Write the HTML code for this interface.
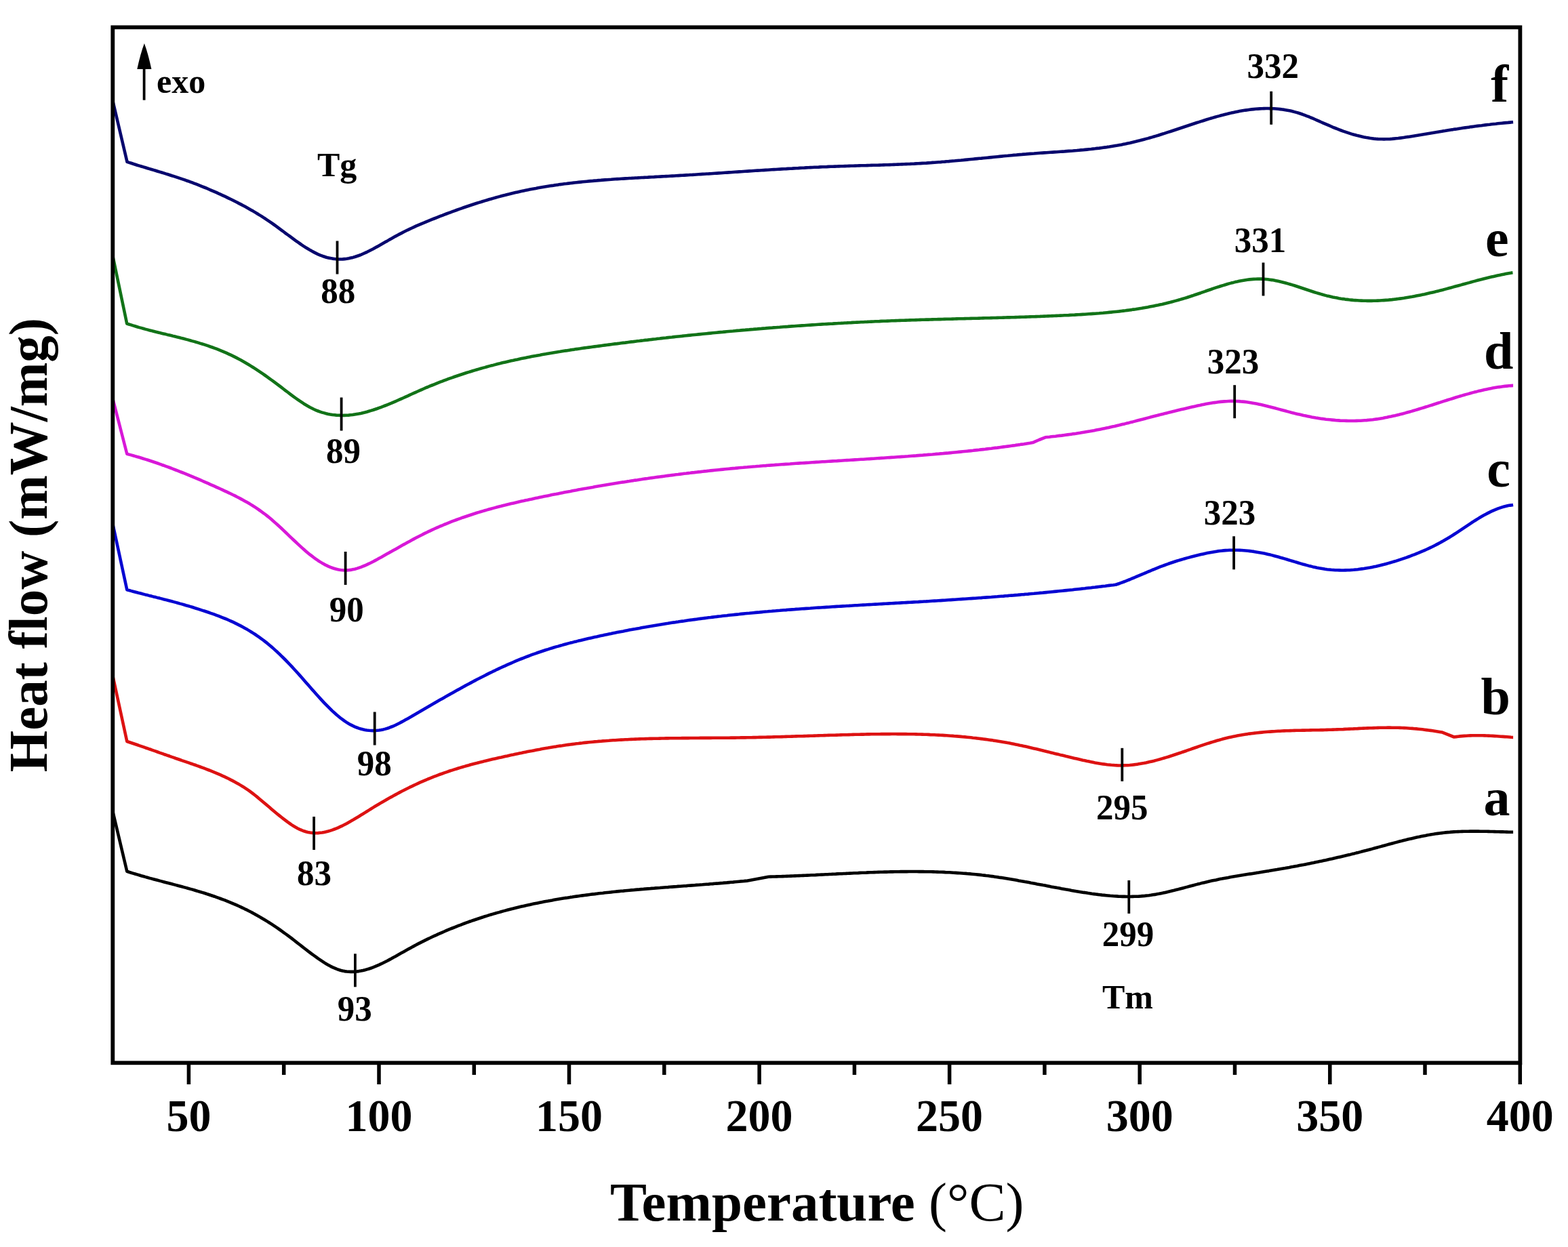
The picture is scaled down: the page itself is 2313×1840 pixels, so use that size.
<!DOCTYPE html>
<html><head><meta charset="utf-8"><title>DSC curves</title>
<style>html,body{margin:0;padding:0;background:#fff;}svg{display:block;}</style>
</head><body>
<svg width="2313" height="1840" viewBox="0 0 2313 1840">
<rect width="2313" height="1840" fill="#fff"/>
<path d="M166.5,149.5 L187.5,238.9 L190.5,239.9 L193.5,240.8 L196.5,241.8 L199.5,242.7 L202.5,243.7 L205.5,244.6 L208.5,245.5 L211.5,246.4 L214.5,247.3 L217.5,248.2 L220.5,249.1 L223.5,250.0 L226.5,250.9 L229.5,251.8 L232.5,252.7 L235.5,253.6 L238.5,254.5 L241.5,255.4 L244.5,256.4 L247.5,257.3 L250.5,258.2 L253.5,259.2 L256.5,260.1 L259.5,261.1 L262.5,262.1 L265.5,263.1 L268.5,264.1 L271.5,265.1 L274.5,266.2 L277.5,267.2 L280.5,268.3 L283.5,269.4 L286.5,270.6 L289.5,271.7 L292.5,272.9 L295.5,274.1 L298.5,275.3 L301.5,276.5 L304.5,277.7 L307.5,279.0 L310.5,280.3 L313.5,281.6 L316.5,282.9 L319.5,284.2 L322.5,285.6 L325.5,286.9 L328.5,288.3 L331.5,289.7 L334.5,291.1 L337.5,292.6 L340.5,294.0 L343.5,295.5 L346.5,297.0 L349.5,298.5 L352.5,300.1 L355.5,301.6 L358.5,303.2 L361.5,304.8 L364.5,306.5 L367.5,308.2 L370.5,309.9 L373.5,311.6 L376.5,313.4 L379.5,315.2 L382.5,317.1 L385.5,318.9 L388.5,320.9 L391.5,322.8 L394.5,324.8 L397.5,326.8 L400.5,328.9 L403.5,331.0 L406.5,333.2 L409.5,335.4 L412.5,337.6 L415.5,339.8 L418.5,342.0 L421.5,344.3 L424.5,346.5 L427.5,348.7 L430.5,350.9 L433.5,353.1 L436.5,355.3 L439.5,357.4 L442.5,359.5 L445.5,361.6 L448.5,363.6 L451.5,365.5 L454.5,367.3 L457.5,369.1 L460.5,370.8 L463.5,372.4 L466.5,373.9 L469.5,375.3 L472.5,376.6 L475.5,377.7 L478.5,378.7 L481.5,379.7 L484.5,380.4 L487.5,381.1 L490.5,381.6 L493.5,382.0 L496.5,382.3 L499.5,382.5 L502.5,382.5 L505.5,382.4 L508.5,382.1 L511.5,381.8 L514.5,381.3 L517.5,380.6 L520.5,379.9 L523.5,379.0 L526.5,378.0 L529.5,377.0 L532.5,375.8 L535.5,374.5 L538.5,373.2 L541.5,371.8 L544.5,370.3 L547.5,368.7 L550.5,367.2 L553.5,365.5 L556.5,363.9 L559.5,362.2 L562.5,360.5 L565.5,358.8 L568.5,357.1 L571.5,355.4 L574.5,353.6 L577.5,352.0 L580.5,350.3 L583.5,348.6 L586.5,347.0 L589.5,345.4 L592.5,343.9 L595.5,342.3 L598.5,340.8 L601.5,339.3 L604.5,337.9 L607.5,336.5 L610.5,335.1 L613.5,333.7 L616.5,332.4 L619.5,331.1 L622.5,329.8 L625.5,328.6 L628.5,327.3 L631.5,326.1 L634.5,324.9 L637.5,323.7 L640.5,322.5 L643.5,321.3 L646.5,320.1 L649.5,318.9 L652.5,317.8 L655.5,316.6 L658.5,315.5 L661.5,314.4 L664.5,313.3 L667.5,312.2 L670.5,311.1 L673.5,310.0 L676.5,308.9 L679.5,307.9 L682.5,306.8 L685.5,305.8 L688.5,304.8 L691.5,303.8 L694.5,302.8 L697.5,301.8 L700.5,300.8 L703.5,299.8 L706.5,298.9 L709.5,298.0 L712.5,297.0 L715.5,296.1 L718.5,295.2 L721.5,294.3 L724.5,293.5 L727.5,292.6 L730.5,291.8 L733.5,290.9 L736.5,290.1 L739.5,289.3 L742.5,288.5 L745.5,287.8 L748.5,287.0 L751.5,286.3 L754.5,285.5 L757.5,284.8 L760.5,284.1 L763.5,283.4 L766.5,282.7 L769.5,282.1 L772.5,281.4 L775.5,280.8 L778.5,280.2 L781.5,279.6 L784.5,279.0 L787.5,278.4 L790.5,277.9 L793.5,277.3 L796.5,276.8 L799.5,276.3 L802.5,275.8 L805.5,275.3 L808.5,274.8 L811.5,274.3 L814.5,273.9 L817.5,273.4 L820.5,273.0 L823.5,272.6 L826.5,272.1 L829.5,271.7 L832.5,271.3 L835.5,271.0 L838.5,270.6 L841.5,270.2 L844.5,269.9 L847.5,269.5 L850.5,269.2 L853.5,268.9 L856.5,268.6 L859.5,268.3 L862.5,268.0 L865.5,267.7 L868.5,267.4 L871.5,267.1 L874.5,266.9 L877.5,266.6 L880.5,266.4 L883.5,266.1 L886.5,265.9 L889.5,265.6 L892.5,265.4 L895.5,265.2 L898.5,265.0 L901.5,264.8 L904.5,264.5 L907.5,264.3 L910.5,264.1 L913.5,264.0 L916.5,263.8 L919.5,263.6 L922.5,263.4 L925.5,263.2 L928.5,263.0 L931.5,262.9 L934.5,262.7 L937.5,262.5 L940.5,262.4 L943.5,262.2 L946.5,262.0 L949.5,261.9 L952.5,261.7 L955.5,261.6 L958.5,261.4 L961.5,261.2 L964.5,261.1 L967.5,260.9 L970.5,260.8 L973.5,260.6 L976.5,260.4 L979.5,260.3 L982.5,260.1 L985.5,260.0 L988.5,259.8 L991.5,259.6 L994.5,259.5 L997.5,259.3 L1000.5,259.1 L1003.5,258.9 L1006.5,258.8 L1009.5,258.6 L1012.5,258.4 L1015.5,258.2 L1018.5,258.0 L1021.5,257.9 L1024.5,257.7 L1027.5,257.5 L1030.5,257.3 L1033.5,257.1 L1036.5,256.9 L1039.5,256.7 L1042.5,256.5 L1045.5,256.4 L1048.5,256.2 L1051.5,256.0 L1054.5,255.8 L1057.5,255.6 L1060.5,255.4 L1063.5,255.2 L1066.5,255.0 L1069.5,254.8 L1072.5,254.6 L1075.5,254.4 L1078.5,254.2 L1081.5,254.0 L1084.5,253.8 L1087.5,253.6 L1090.5,253.4 L1093.5,253.2 L1096.5,253.0 L1099.5,252.8 L1102.5,252.6 L1105.5,252.4 L1108.5,252.2 L1111.5,252.0 L1114.5,251.8 L1117.5,251.6 L1120.5,251.5 L1123.5,251.3 L1126.5,251.1 L1129.5,250.9 L1132.5,250.7 L1135.5,250.5 L1138.5,250.3 L1141.5,250.1 L1144.5,250.0 L1147.5,249.8 L1150.5,249.6 L1153.5,249.4 L1156.5,249.2 L1159.5,249.1 L1162.5,248.9 L1165.5,248.7 L1168.5,248.6 L1171.5,248.4 L1174.5,248.2 L1177.5,248.1 L1180.5,247.9 L1183.5,247.7 L1186.5,247.6 L1189.5,247.4 L1192.5,247.3 L1195.5,247.1 L1198.5,247.0 L1201.5,246.8 L1204.5,246.7 L1207.5,246.6 L1210.5,246.4 L1213.5,246.3 L1216.5,246.2 L1219.5,246.1 L1222.5,245.9 L1225.5,245.8 L1228.5,245.7 L1231.5,245.6 L1234.5,245.5 L1237.5,245.4 L1240.5,245.3 L1243.5,245.2 L1246.5,245.1 L1249.5,245.0 L1252.5,244.9 L1255.5,244.8 L1258.5,244.7 L1261.5,244.6 L1264.5,244.5 L1267.5,244.4 L1270.5,244.3 L1273.5,244.3 L1276.5,244.2 L1279.5,244.1 L1282.5,244.0 L1285.5,243.9 L1288.5,243.8 L1291.5,243.7 L1294.5,243.7 L1297.5,243.6 L1300.5,243.5 L1303.5,243.4 L1306.5,243.3 L1309.5,243.2 L1312.5,243.1 L1315.5,243.0 L1318.5,242.9 L1321.5,242.8 L1324.5,242.6 L1327.5,242.5 L1330.5,242.4 L1333.5,242.3 L1336.5,242.1 L1339.5,242.0 L1342.5,241.9 L1345.5,241.7 L1348.5,241.6 L1351.5,241.4 L1354.5,241.3 L1357.5,241.1 L1360.5,240.9 L1363.5,240.7 L1366.5,240.6 L1369.5,240.4 L1372.5,240.2 L1375.5,239.9 L1378.5,239.7 L1381.5,239.5 L1384.5,239.3 L1387.5,239.1 L1390.5,238.8 L1393.5,238.6 L1396.5,238.3 L1399.5,238.1 L1402.5,237.8 L1405.5,237.5 L1408.5,237.3 L1411.5,237.0 L1414.5,236.7 L1417.5,236.5 L1420.5,236.2 L1423.5,235.9 L1426.5,235.6 L1429.5,235.3 L1432.5,235.0 L1435.5,234.7 L1438.5,234.4 L1441.5,234.1 L1444.5,233.8 L1447.5,233.6 L1450.5,233.3 L1453.5,233.0 L1456.5,232.7 L1459.5,232.4 L1462.5,232.1 L1465.5,231.8 L1468.5,231.5 L1471.5,231.2 L1474.5,230.9 L1477.5,230.6 L1480.5,230.3 L1483.5,230.0 L1486.5,229.8 L1489.5,229.5 L1492.5,229.2 L1495.5,228.9 L1498.5,228.7 L1501.5,228.4 L1504.5,228.1 L1507.5,227.9 L1510.5,227.6 L1513.5,227.4 L1516.5,227.1 L1519.5,226.9 L1522.5,226.7 L1525.5,226.5 L1528.5,226.2 L1531.5,226.0 L1534.5,225.8 L1537.5,225.6 L1540.5,225.4 L1543.5,225.2 L1546.5,225.0 L1549.5,224.8 L1552.5,224.6 L1555.5,224.4 L1558.5,224.2 L1561.5,224.0 L1564.5,223.8 L1567.5,223.6 L1570.5,223.4 L1573.5,223.1 L1576.5,222.9 L1579.5,222.7 L1582.5,222.5 L1585.5,222.2 L1588.5,222.0 L1591.5,221.7 L1594.5,221.4 L1597.5,221.2 L1600.5,220.9 L1603.5,220.6 L1606.5,220.3 L1609.5,220.0 L1612.5,219.6 L1615.5,219.3 L1618.5,218.9 L1621.5,218.6 L1624.5,218.2 L1627.5,217.8 L1630.5,217.4 L1633.5,216.9 L1636.5,216.5 L1639.5,216.0 L1642.5,215.5 L1645.5,215.0 L1648.5,214.5 L1651.5,213.9 L1654.5,213.4 L1657.5,212.8 L1660.5,212.2 L1663.5,211.5 L1666.5,210.9 L1669.5,210.2 L1672.5,209.5 L1675.5,208.8 L1678.5,208.0 L1681.5,207.3 L1684.5,206.5 L1687.5,205.7 L1690.5,204.9 L1693.5,204.1 L1696.5,203.2 L1699.5,202.4 L1702.5,201.5 L1705.5,200.6 L1708.5,199.7 L1711.5,198.7 L1714.5,197.8 L1717.5,196.9 L1720.5,195.9 L1723.5,194.9 L1726.5,194.0 L1729.5,193.0 L1732.5,192.0 L1735.5,191.0 L1738.5,190.0 L1741.5,189.0 L1744.5,188.0 L1747.5,187.0 L1750.5,186.0 L1753.5,185.0 L1756.5,184.0 L1759.5,183.0 L1762.5,182.0 L1765.5,181.0 L1768.5,180.1 L1771.5,179.1 L1774.5,178.2 L1777.5,177.2 L1780.5,176.3 L1783.5,175.4 L1786.5,174.5 L1789.5,173.6 L1792.5,172.7 L1795.5,171.9 L1798.5,171.1 L1801.5,170.2 L1804.5,169.5 L1807.5,168.7 L1810.5,168.0 L1813.5,167.2 L1816.5,166.6 L1819.5,165.9 L1822.5,165.3 L1825.5,164.7 L1828.5,164.1 L1831.5,163.6 L1834.5,163.1 L1837.5,162.6 L1840.5,162.2 L1843.5,161.8 L1846.5,161.4 L1849.5,161.1 L1852.5,160.8 L1855.5,160.6 L1858.5,160.4 L1861.5,160.2 L1864.5,160.1 L1867.5,160.0 L1870.5,160.0 L1873.5,160.1 L1876.5,160.2 L1879.5,160.3 L1882.5,160.5 L1885.5,160.8 L1888.5,161.1 L1891.5,161.5 L1894.5,161.9 L1897.5,162.4 L1900.5,163.0 L1903.5,163.6 L1906.5,164.3 L1909.5,165.1 L1912.5,165.9 L1915.5,166.8 L1918.5,167.8 L1921.5,168.8 L1924.5,169.9 L1927.5,171.1 L1930.5,172.2 L1933.5,173.5 L1936.5,174.7 L1939.5,176.0 L1942.5,177.3 L1945.5,178.6 L1948.5,180.0 L1951.5,181.3 L1954.5,182.6 L1957.5,183.9 L1960.5,185.2 L1963.5,186.5 L1966.5,187.8 L1969.5,189.0 L1972.5,190.2 L1975.5,191.3 L1978.5,192.5 L1981.5,193.6 L1984.5,194.6 L1987.5,195.6 L1990.5,196.6 L1993.5,197.6 L1996.5,198.5 L1999.5,199.3 L2002.5,200.1 L2005.5,200.8 L2008.5,201.5 L2011.5,202.2 L2014.5,202.8 L2017.5,203.3 L2020.5,203.8 L2023.5,204.2 L2026.5,204.6 L2029.5,204.9 L2032.5,205.1 L2035.5,205.2 L2038.5,205.3 L2041.5,205.4 L2044.5,205.3 L2047.5,205.2 L2050.5,205.1 L2053.5,204.9 L2056.5,204.6 L2059.5,204.3 L2062.5,204.0 L2065.5,203.6 L2068.5,203.2 L2071.5,202.8 L2074.5,202.3 L2077.5,201.9 L2080.5,201.4 L2083.5,200.9 L2086.5,200.4 L2089.5,199.9 L2092.5,199.4 L2095.5,198.9 L2098.5,198.4 L2101.5,197.9 L2104.5,197.4 L2107.5,196.9 L2110.5,196.4 L2113.5,195.9 L2116.5,195.4 L2119.5,194.9 L2122.5,194.4 L2125.5,193.9 L2128.5,193.4 L2131.5,193.0 L2134.5,192.5 L2137.5,192.0 L2140.5,191.5 L2143.5,191.1 L2146.5,190.6 L2149.5,190.2 L2152.5,189.7 L2155.5,189.3 L2158.5,188.8 L2161.5,188.4 L2164.5,188.0 L2167.5,187.6 L2170.5,187.1 L2173.5,186.7 L2176.5,186.3 L2179.5,185.9 L2182.5,185.5 L2185.5,185.2 L2188.5,184.8 L2191.5,184.4 L2194.5,184.0 L2197.5,183.7 L2200.5,183.3 L2203.5,183.0 L2206.5,182.7 L2209.5,182.3 L2212.5,182.0 L2215.5,181.7 L2218.5,181.4 L2221.5,181.1 L2224.5,180.9 L2227.5,180.6 L2230.5,180.3 L2232.1,180.2" fill="none" stroke="#08086E" stroke-width="4.6" stroke-linejoin="round" stroke-linecap="butt"/>
<path d="M166.5,378.5 L187.2,477.5 L190.2,478.5 L193.2,479.4 L196.2,480.4 L199.2,481.3 L202.2,482.2 L205.2,483.1 L208.2,483.9 L211.2,484.7 L214.2,485.6 L217.2,486.4 L220.2,487.2 L223.2,487.9 L226.2,488.7 L229.2,489.5 L232.2,490.2 L235.2,490.9 L238.2,491.7 L241.2,492.4 L244.2,493.1 L247.2,493.9 L250.2,494.6 L253.2,495.3 L256.2,496.1 L259.2,496.8 L262.2,497.6 L265.2,498.3 L268.2,499.1 L271.2,499.8 L274.2,500.6 L277.2,501.4 L280.2,502.2 L283.2,503.1 L286.2,503.9 L289.2,504.8 L292.2,505.6 L295.2,506.6 L298.2,507.5 L301.2,508.4 L304.2,509.4 L307.2,510.4 L310.2,511.5 L313.2,512.5 L316.2,513.6 L319.2,514.7 L322.2,515.9 L325.2,517.1 L328.2,518.3 L331.2,519.6 L334.2,520.9 L337.2,522.3 L340.2,523.7 L343.2,525.1 L346.2,526.6 L349.2,528.1 L352.2,529.7 L355.2,531.3 L358.2,533.0 L361.2,534.7 L364.2,536.5 L367.2,538.3 L370.2,540.1 L373.2,542.0 L376.2,543.9 L379.2,545.9 L382.2,547.9 L385.2,549.9 L388.2,551.9 L391.2,554.0 L394.2,556.1 L397.2,558.3 L400.2,560.5 L403.2,562.7 L406.2,564.9 L409.2,567.1 L412.2,569.4 L415.2,571.7 L418.2,574.0 L421.2,576.3 L424.2,578.5 L427.2,580.8 L430.2,583.1 L433.2,585.3 L436.2,587.5 L439.2,589.6 L442.2,591.7 L445.2,593.7 L448.2,595.7 L451.2,597.5 L454.2,599.3 L457.2,601.0 L460.2,602.5 L463.2,604.0 L466.2,605.3 L469.2,606.5 L472.2,607.6 L475.2,608.6 L478.2,609.4 L481.2,610.2 L484.2,610.9 L487.2,611.5 L490.2,612.0 L493.2,612.3 L496.2,612.6 L499.2,612.8 L502.2,612.9 L505.2,613.0 L508.2,612.9 L511.2,612.8 L514.2,612.6 L517.2,612.3 L520.2,612.0 L523.2,611.5 L526.2,611.0 L529.2,610.5 L532.2,609.9 L535.2,609.2 L538.2,608.5 L541.2,607.7 L544.2,606.8 L547.2,605.9 L550.2,605.0 L553.2,604.0 L556.2,603.0 L559.2,601.9 L562.2,600.8 L565.2,599.7 L568.2,598.5 L571.2,597.3 L574.2,596.1 L577.2,594.9 L580.2,593.6 L583.2,592.3 L586.2,591.0 L589.2,589.7 L592.2,588.3 L595.2,587.0 L598.2,585.6 L601.2,584.3 L604.2,582.9 L607.2,581.5 L610.2,580.2 L613.2,578.8 L616.2,577.5 L619.2,576.2 L622.2,574.8 L625.2,573.5 L628.2,572.2 L631.2,571.0 L634.2,569.7 L637.2,568.5 L640.2,567.3 L643.2,566.1 L646.2,564.9 L649.2,563.7 L652.2,562.6 L655.2,561.4 L658.2,560.3 L661.2,559.2 L664.2,558.1 L667.2,557.1 L670.2,556.0 L673.2,555.0 L676.2,554.0 L679.2,553.0 L682.2,552.0 L685.2,551.0 L688.2,550.0 L691.2,549.1 L694.2,548.2 L697.2,547.3 L700.2,546.4 L703.2,545.5 L706.2,544.6 L709.2,543.7 L712.2,542.9 L715.2,542.1 L718.2,541.2 L721.2,540.4 L724.2,539.6 L727.2,538.9 L730.2,538.1 L733.2,537.3 L736.2,536.6 L739.2,535.8 L742.2,535.1 L745.2,534.4 L748.2,533.7 L751.2,533.0 L754.2,532.3 L757.2,531.7 L760.2,531.0 L763.2,530.4 L766.2,529.7 L769.2,529.1 L772.2,528.5 L775.2,527.9 L778.2,527.3 L781.2,526.7 L784.2,526.1 L787.2,525.5 L790.2,525.0 L793.2,524.4 L796.2,523.9 L799.2,523.3 L802.2,522.8 L805.2,522.3 L808.2,521.7 L811.2,521.2 L814.2,520.7 L817.2,520.2 L820.2,519.7 L823.2,519.2 L826.2,518.8 L829.2,518.3 L832.2,517.8 L835.2,517.4 L838.2,516.9 L841.2,516.4 L844.2,516.0 L847.2,515.6 L850.2,515.1 L853.2,514.7 L856.2,514.3 L859.2,513.8 L862.2,513.4 L865.2,513.0 L868.2,512.6 L871.2,512.2 L874.2,511.8 L877.2,511.4 L880.2,511.0 L883.2,510.6 L886.2,510.2 L889.2,509.8 L892.2,509.4 L895.2,509.0 L898.2,508.6 L901.2,508.2 L904.2,507.8 L907.2,507.4 L910.2,507.1 L913.2,506.7 L916.2,506.3 L919.2,505.9 L922.2,505.6 L925.2,505.2 L928.2,504.8 L931.2,504.4 L934.2,504.1 L937.2,503.7 L940.2,503.3 L943.2,503.0 L946.2,502.6 L949.2,502.3 L952.2,501.9 L955.2,501.6 L958.2,501.2 L961.2,500.9 L964.2,500.5 L967.2,500.2 L970.2,499.8 L973.2,499.5 L976.2,499.1 L979.2,498.8 L982.2,498.5 L985.2,498.1 L988.2,497.8 L991.2,497.5 L994.2,497.1 L997.2,496.8 L1000.2,496.5 L1003.2,496.2 L1006.2,495.9 L1009.2,495.5 L1012.2,495.2 L1015.2,494.9 L1018.2,494.6 L1021.2,494.3 L1024.2,494.0 L1027.2,493.7 L1030.2,493.4 L1033.2,493.1 L1036.2,492.8 L1039.2,492.5 L1042.2,492.2 L1045.2,491.9 L1048.2,491.6 L1051.2,491.3 L1054.2,491.0 L1057.2,490.7 L1060.2,490.4 L1063.2,490.1 L1066.2,489.9 L1069.2,489.6 L1072.2,489.3 L1075.2,489.0 L1078.2,488.7 L1081.2,488.5 L1084.2,488.2 L1087.2,487.9 L1090.2,487.7 L1093.2,487.4 L1096.2,487.1 L1099.2,486.9 L1102.2,486.6 L1105.2,486.4 L1108.2,486.1 L1111.2,485.9 L1114.2,485.6 L1117.2,485.4 L1120.2,485.1 L1123.2,484.9 L1126.2,484.6 L1129.2,484.4 L1132.2,484.1 L1135.2,483.9 L1138.2,483.7 L1141.2,483.4 L1144.2,483.2 L1147.2,483.0 L1150.2,482.8 L1153.2,482.5 L1156.2,482.3 L1159.2,482.1 L1162.2,481.9 L1165.2,481.6 L1168.2,481.4 L1171.2,481.2 L1174.2,481.0 L1177.2,480.8 L1180.2,480.6 L1183.2,480.4 L1186.2,480.2 L1189.2,480.0 L1192.2,479.8 L1195.2,479.6 L1198.2,479.4 L1201.2,479.2 L1204.2,479.0 L1207.2,478.8 L1210.2,478.6 L1213.2,478.4 L1216.2,478.3 L1219.2,478.1 L1222.2,477.9 L1225.2,477.7 L1228.2,477.6 L1231.2,477.4 L1234.2,477.2 L1237.2,477.0 L1240.2,476.9 L1243.2,476.7 L1246.2,476.5 L1249.2,476.4 L1252.2,476.2 L1255.2,476.1 L1258.2,475.9 L1261.2,475.8 L1264.2,475.6 L1267.2,475.5 L1270.2,475.3 L1273.2,475.2 L1276.2,475.0 L1279.2,474.9 L1282.2,474.7 L1285.2,474.6 L1288.2,474.5 L1291.2,474.3 L1294.2,474.2 L1297.2,474.1 L1300.2,473.9 L1303.2,473.8 L1306.2,473.7 L1309.2,473.6 L1312.2,473.5 L1315.2,473.3 L1318.2,473.2 L1321.2,473.1 L1324.2,473.0 L1327.2,472.9 L1330.2,472.8 L1333.2,472.7 L1336.2,472.6 L1339.2,472.5 L1342.2,472.4 L1345.2,472.3 L1348.2,472.2 L1351.2,472.1 L1354.2,472.0 L1357.2,471.9 L1360.2,471.8 L1363.2,471.7 L1366.2,471.6 L1369.2,471.6 L1372.2,471.5 L1375.2,471.4 L1378.2,471.3 L1381.2,471.2 L1384.2,471.1 L1387.2,471.1 L1390.2,471.0 L1393.2,470.9 L1396.2,470.8 L1399.2,470.7 L1402.2,470.7 L1405.2,470.6 L1408.2,470.5 L1411.2,470.4 L1414.2,470.3 L1417.2,470.3 L1420.2,470.2 L1423.2,470.1 L1426.2,470.0 L1429.2,470.0 L1432.2,469.9 L1435.2,469.8 L1438.2,469.7 L1441.2,469.7 L1444.2,469.6 L1447.2,469.5 L1450.2,469.4 L1453.2,469.3 L1456.2,469.3 L1459.2,469.2 L1462.2,469.1 L1465.2,469.0 L1468.2,469.0 L1471.2,468.9 L1474.2,468.8 L1477.2,468.7 L1480.2,468.6 L1483.2,468.5 L1486.2,468.4 L1489.2,468.4 L1492.2,468.3 L1495.2,468.2 L1498.2,468.1 L1501.2,468.0 L1504.2,467.9 L1507.2,467.8 L1510.2,467.7 L1513.2,467.6 L1516.2,467.5 L1519.2,467.4 L1522.2,467.3 L1525.2,467.2 L1528.2,467.1 L1531.2,467.0 L1534.2,466.9 L1537.2,466.7 L1540.2,466.6 L1543.2,466.5 L1546.2,466.4 L1549.2,466.3 L1552.2,466.1 L1555.2,466.0 L1558.2,465.9 L1561.2,465.8 L1564.2,465.6 L1567.2,465.5 L1570.2,465.3 L1573.2,465.2 L1576.2,465.1 L1579.2,464.9 L1582.2,464.7 L1585.2,464.6 L1588.2,464.4 L1591.2,464.3 L1594.2,464.1 L1597.2,463.9 L1600.2,463.7 L1603.2,463.5 L1606.2,463.3 L1609.2,463.1 L1612.2,462.9 L1615.2,462.7 L1618.2,462.5 L1621.2,462.3 L1624.2,462.0 L1627.2,461.8 L1630.2,461.5 L1633.2,461.2 L1636.2,460.9 L1639.2,460.6 L1642.2,460.3 L1645.2,460.0 L1648.2,459.7 L1651.2,459.4 L1654.2,459.0 L1657.2,458.6 L1660.2,458.3 L1663.2,457.9 L1666.2,457.5 L1669.2,457.1 L1672.2,456.6 L1675.2,456.2 L1678.2,455.7 L1681.2,455.2 L1684.2,454.8 L1687.2,454.2 L1690.2,453.7 L1693.2,453.2 L1696.2,452.6 L1699.2,452.0 L1702.2,451.4 L1705.2,450.8 L1708.2,450.2 L1711.2,449.5 L1714.2,448.9 L1717.2,448.2 L1720.2,447.5 L1723.2,446.7 L1726.2,446.0 L1729.2,445.2 L1732.2,444.4 L1735.2,443.6 L1738.2,442.8 L1741.2,441.9 L1744.2,441.0 L1747.2,440.1 L1750.2,439.2 L1753.2,438.2 L1756.2,437.3 L1759.2,436.3 L1762.2,435.2 L1765.2,434.2 L1768.2,433.2 L1771.2,432.2 L1774.2,431.1 L1777.2,430.1 L1780.2,429.0 L1783.2,428.0 L1786.2,427.0 L1789.2,425.9 L1792.2,424.9 L1795.2,423.9 L1798.2,423.0 L1801.2,422.0 L1804.2,421.1 L1807.2,420.2 L1810.2,419.3 L1813.2,418.4 L1816.2,417.6 L1819.2,416.9 L1822.2,416.1 L1825.2,415.5 L1828.2,414.8 L1831.2,414.2 L1834.2,413.7 L1837.2,413.2 L1840.2,412.8 L1843.2,412.4 L1846.2,412.1 L1849.2,411.9 L1852.2,411.7 L1855.2,411.6 L1858.2,411.6 L1861.2,411.6 L1864.2,411.8 L1867.2,412.0 L1870.2,412.3 L1873.2,412.7 L1876.2,413.1 L1879.2,413.6 L1882.2,414.2 L1885.2,414.8 L1888.2,415.5 L1891.2,416.2 L1894.2,417.0 L1897.2,417.8 L1900.2,418.6 L1903.2,419.5 L1906.2,420.4 L1909.2,421.3 L1912.2,422.3 L1915.2,423.3 L1918.2,424.3 L1921.2,425.3 L1924.2,426.3 L1927.2,427.3 L1930.2,428.3 L1933.2,429.2 L1936.2,430.2 L1939.2,431.2 L1942.2,432.1 L1945.2,433.0 L1948.2,433.9 L1951.2,434.8 L1954.2,435.6 L1957.2,436.4 L1960.2,437.1 L1963.2,437.8 L1966.2,438.5 L1969.2,439.1 L1972.2,439.6 L1975.2,440.2 L1978.2,440.7 L1981.2,441.1 L1984.2,441.6 L1987.2,441.9 L1990.2,442.3 L1993.2,442.6 L1996.2,442.9 L1999.2,443.1 L2002.2,443.3 L2005.2,443.5 L2008.2,443.6 L2011.2,443.7 L2014.2,443.8 L2017.2,443.9 L2020.2,443.9 L2023.2,443.9 L2026.2,443.8 L2029.2,443.7 L2032.2,443.6 L2035.2,443.5 L2038.2,443.3 L2041.2,443.1 L2044.2,442.9 L2047.2,442.7 L2050.2,442.4 L2053.2,442.1 L2056.2,441.7 L2059.2,441.4 L2062.2,441.0 L2065.2,440.6 L2068.2,440.2 L2071.2,439.8 L2074.2,439.3 L2077.2,438.8 L2080.2,438.3 L2083.2,437.8 L2086.2,437.2 L2089.2,436.6 L2092.2,436.0 L2095.2,435.4 L2098.2,434.8 L2101.2,434.2 L2104.2,433.5 L2107.2,432.8 L2110.2,432.1 L2113.2,431.4 L2116.2,430.7 L2119.2,429.9 L2122.2,429.2 L2125.2,428.4 L2128.2,427.7 L2131.2,426.9 L2134.2,426.1 L2137.2,425.3 L2140.2,424.5 L2143.2,423.6 L2146.2,422.8 L2149.2,422.0 L2152.2,421.2 L2155.2,420.4 L2158.2,419.5 L2161.2,418.7 L2164.2,417.9 L2167.2,417.1 L2170.2,416.2 L2173.2,415.4 L2176.2,414.6 L2179.2,413.8 L2182.2,413.0 L2185.2,412.3 L2188.2,411.5 L2191.2,410.7 L2194.2,410.0 L2197.2,409.3 L2200.2,408.6 L2203.2,407.9 L2206.2,407.2 L2209.2,406.5 L2212.2,405.9 L2215.2,405.3 L2218.2,404.7 L2221.2,404.1 L2224.2,403.5 L2227.2,403.0 L2230.2,402.5 L2231.5,402.3" fill="none" stroke="#127318" stroke-width="4.6" stroke-linejoin="round" stroke-linecap="butt"/>
<path d="M166.5,589.0 L187.3,669.8 L190.3,670.6 L193.3,671.4 L196.3,672.2 L199.3,673.1 L202.3,674.0 L205.3,674.8 L208.3,675.7 L211.3,676.7 L214.3,677.6 L217.3,678.5 L220.3,679.5 L223.3,680.5 L226.3,681.5 L229.3,682.5 L232.3,683.5 L235.3,684.6 L238.3,685.7 L241.3,686.7 L244.3,687.8 L247.3,688.9 L250.3,690.0 L253.3,691.2 L256.3,692.3 L259.3,693.5 L262.3,694.6 L265.3,695.8 L268.3,697.0 L271.3,698.2 L274.3,699.4 L277.3,700.6 L280.3,701.9 L283.3,703.1 L286.3,704.4 L289.3,705.6 L292.3,706.9 L295.3,708.2 L298.3,709.5 L301.3,710.8 L304.3,712.1 L307.3,713.4 L310.3,714.8 L313.3,716.1 L316.3,717.4 L319.3,718.8 L322.3,720.2 L325.3,721.5 L328.3,722.9 L331.3,724.3 L334.3,725.7 L337.3,727.1 L340.3,728.5 L343.3,730.0 L346.3,731.4 L349.3,733.0 L352.3,734.5 L355.3,736.1 L358.3,737.7 L361.3,739.4 L364.3,741.1 L367.3,742.8 L370.3,744.6 L373.3,746.5 L376.3,748.4 L379.3,750.4 L382.3,752.5 L385.3,754.6 L388.3,756.8 L391.3,759.0 L394.3,761.4 L397.3,763.8 L400.3,766.3 L403.3,768.9 L406.3,771.6 L409.3,774.3 L412.3,777.0 L415.3,779.8 L418.3,782.7 L421.3,785.5 L424.3,788.4 L427.3,791.3 L430.3,794.1 L433.3,797.0 L436.3,799.8 L439.3,802.6 L442.3,805.4 L445.3,808.1 L448.3,810.8 L451.3,813.4 L454.3,815.9 L457.3,818.4 L460.3,820.7 L463.3,823.0 L466.3,825.2 L469.3,827.2 L472.3,829.1 L475.3,830.9 L478.3,832.6 L481.3,834.2 L484.3,835.6 L487.3,836.9 L490.3,838.0 L493.3,839.0 L496.3,839.8 L499.3,840.5 L502.3,841.0 L505.3,841.3 L508.3,841.5 L511.3,841.4 L514.3,841.2 L517.3,840.9 L520.3,840.3 L523.3,839.7 L526.3,838.9 L529.3,837.9 L532.3,836.9 L535.3,835.7 L538.3,834.5 L541.3,833.1 L544.3,831.7 L547.3,830.2 L550.3,828.7 L553.3,827.1 L556.3,825.5 L559.3,823.8 L562.3,822.2 L565.3,820.5 L568.3,818.8 L571.3,817.1 L574.3,815.4 L577.3,813.8 L580.3,812.1 L583.3,810.4 L586.3,808.7 L589.3,807.0 L592.3,805.3 L595.3,803.6 L598.3,802.0 L601.3,800.3 L604.3,798.7 L607.3,797.0 L610.3,795.4 L613.3,793.8 L616.3,792.2 L619.3,790.7 L622.3,789.2 L625.3,787.6 L628.3,786.2 L631.3,784.7 L634.3,783.3 L637.3,781.9 L640.3,780.5 L643.3,779.2 L646.3,777.8 L649.3,776.5 L652.3,775.3 L655.3,774.0 L658.3,772.8 L661.3,771.6 L664.3,770.4 L667.3,769.2 L670.3,768.1 L673.3,767.0 L676.3,765.9 L679.3,764.8 L682.3,763.7 L685.3,762.7 L688.3,761.7 L691.3,760.7 L694.3,759.7 L697.3,758.7 L700.3,757.8 L703.3,756.8 L706.3,755.9 L709.3,755.0 L712.3,754.1 L715.3,753.2 L718.3,752.4 L721.3,751.5 L724.3,750.7 L727.3,749.9 L730.3,749.1 L733.3,748.3 L736.3,747.5 L739.3,746.8 L742.3,746.0 L745.3,745.3 L748.3,744.5 L751.3,743.8 L754.3,743.1 L757.3,742.4 L760.3,741.7 L763.3,741.0 L766.3,740.3 L769.3,739.6 L772.3,739.0 L775.3,738.3 L778.3,737.7 L781.3,737.0 L784.3,736.4 L787.3,735.7 L790.3,735.1 L793.3,734.5 L796.3,733.8 L799.3,733.2 L802.3,732.6 L805.3,732.0 L808.3,731.4 L811.3,730.8 L814.3,730.1 L817.3,729.5 L820.3,729.0 L823.3,728.4 L826.3,727.8 L829.3,727.2 L832.3,726.6 L835.3,726.0 L838.3,725.4 L841.3,724.9 L844.3,724.3 L847.3,723.7 L850.3,723.2 L853.3,722.6 L856.3,722.1 L859.3,721.5 L862.3,721.0 L865.3,720.5 L868.3,719.9 L871.3,719.4 L874.3,718.9 L877.3,718.3 L880.3,717.8 L883.3,717.3 L886.3,716.8 L889.3,716.3 L892.3,715.8 L895.3,715.3 L898.3,714.8 L901.3,714.3 L904.3,713.8 L907.3,713.3 L910.3,712.8 L913.3,712.3 L916.3,711.8 L919.3,711.4 L922.3,710.9 L925.3,710.4 L928.3,710.0 L931.3,709.5 L934.3,709.1 L937.3,708.6 L940.3,708.2 L943.3,707.7 L946.3,707.3 L949.3,706.8 L952.3,706.4 L955.3,706.0 L958.3,705.5 L961.3,705.1 L964.3,704.7 L967.3,704.3 L970.3,703.9 L973.3,703.5 L976.3,703.1 L979.3,702.7 L982.3,702.3 L985.3,701.9 L988.3,701.5 L991.3,701.1 L994.3,700.7 L997.3,700.3 L1000.3,700.0 L1003.3,699.6 L1006.3,699.2 L1009.3,698.8 L1012.3,698.5 L1015.3,698.1 L1018.3,697.8 L1021.3,697.4 L1024.3,697.1 L1027.3,696.7 L1030.3,696.4 L1033.3,696.1 L1036.3,695.7 L1039.3,695.4 L1042.3,695.1 L1045.3,694.7 L1048.3,694.4 L1051.3,694.1 L1054.3,693.8 L1057.3,693.5 L1060.3,693.2 L1063.3,692.9 L1066.3,692.6 L1069.3,692.3 L1072.3,692.0 L1075.3,691.7 L1078.3,691.4 L1081.3,691.1 L1084.3,690.9 L1087.3,690.6 L1090.3,690.3 L1093.3,690.0 L1096.3,689.8 L1099.3,689.5 L1102.3,689.3 L1105.3,689.0 L1108.3,688.7 L1111.3,688.5 L1114.3,688.3 L1117.3,688.0 L1120.3,687.8 L1123.3,687.5 L1126.3,687.3 L1129.3,687.1 L1132.3,686.8 L1135.3,686.6 L1138.3,686.4 L1141.3,686.2 L1144.3,685.9 L1147.3,685.7 L1150.3,685.5 L1153.3,685.3 L1156.3,685.1 L1159.3,684.9 L1162.3,684.7 L1165.3,684.5 L1168.3,684.2 L1171.3,684.0 L1174.3,683.8 L1177.3,683.6 L1180.3,683.4 L1183.3,683.3 L1186.3,683.1 L1189.3,682.9 L1192.3,682.7 L1195.3,682.5 L1198.3,682.3 L1201.3,682.1 L1204.3,681.9 L1207.3,681.7 L1210.3,681.5 L1213.3,681.3 L1216.3,681.2 L1219.3,681.0 L1222.3,680.8 L1225.3,680.6 L1228.3,680.4 L1231.3,680.2 L1234.3,680.1 L1237.3,679.9 L1240.3,679.7 L1243.3,679.5 L1246.3,679.3 L1249.3,679.1 L1252.3,679.0 L1255.3,678.8 L1258.3,678.6 L1261.3,678.4 L1264.3,678.2 L1267.3,678.0 L1270.3,677.8 L1273.3,677.7 L1276.3,677.5 L1279.3,677.3 L1282.3,677.1 L1285.3,676.9 L1288.3,676.7 L1291.3,676.5 L1294.3,676.3 L1297.3,676.1 L1300.3,675.9 L1303.3,675.7 L1306.3,675.5 L1309.3,675.3 L1312.3,675.1 L1315.3,674.9 L1318.3,674.7 L1321.3,674.5 L1324.3,674.3 L1327.3,674.1 L1330.3,673.9 L1333.3,673.7 L1336.3,673.5 L1339.3,673.3 L1342.3,673.0 L1345.3,672.8 L1348.3,672.6 L1351.3,672.4 L1354.3,672.1 L1357.3,671.9 L1360.3,671.7 L1363.3,671.4 L1366.3,671.2 L1369.3,670.9 L1372.3,670.7 L1375.3,670.5 L1378.3,670.2 L1381.3,669.9 L1384.3,669.7 L1387.3,669.4 L1390.3,669.2 L1393.3,668.9 L1396.3,668.6 L1399.3,668.4 L1402.3,668.1 L1405.3,667.8 L1408.3,667.5 L1411.3,667.2 L1414.3,666.9 L1417.3,666.6 L1420.3,666.3 L1423.3,666.0 L1426.3,665.7 L1429.3,665.4 L1432.3,665.1 L1435.3,664.8 L1438.3,664.4 L1441.3,664.1 L1444.3,663.8 L1447.3,663.4 L1450.3,663.1 L1453.3,662.8 L1456.3,662.4 L1459.3,662.0 L1462.3,661.7 L1465.3,661.3 L1468.3,660.9 L1471.3,660.6 L1474.3,660.2 L1477.3,659.8 L1480.3,659.4 L1483.3,659.0 L1486.3,658.6 L1489.3,658.2 L1492.3,657.8 L1495.3,657.4 L1498.3,656.9 L1501.3,656.5 L1504.3,656.1 L1507.3,655.6 L1510.3,655.2 L1513.3,654.7 L1516.3,654.2 L1519.3,653.8 L1522.3,653.3 L1523.5,653.1 L1532.8,649.0 L1542.0,645.3 L1545.0,645.0 L1548.0,644.7 L1551.0,644.3 L1554.0,644.0 L1557.0,643.7 L1560.0,643.3 L1563.0,642.9 L1566.0,642.6 L1569.0,642.2 L1572.0,641.8 L1575.0,641.4 L1578.0,641.0 L1581.0,640.6 L1584.0,640.1 L1587.0,639.7 L1590.0,639.2 L1593.0,638.8 L1596.0,638.3 L1599.0,637.8 L1602.0,637.3 L1605.0,636.8 L1608.0,636.3 L1611.0,635.7 L1614.0,635.2 L1617.0,634.6 L1620.0,634.0 L1623.0,633.4 L1626.0,632.8 L1629.0,632.2 L1632.0,631.6 L1635.0,631.0 L1638.0,630.3 L1641.0,629.6 L1644.0,629.0 L1647.0,628.3 L1650.0,627.6 L1653.0,626.8 L1656.0,626.1 L1659.0,625.4 L1662.0,624.6 L1665.0,623.9 L1668.0,623.1 L1671.0,622.4 L1674.0,621.6 L1677.0,620.8 L1680.0,620.0 L1683.0,619.2 L1686.0,618.5 L1689.0,617.7 L1692.0,616.9 L1695.0,616.1 L1698.0,615.3 L1701.0,614.5 L1704.0,613.7 L1707.0,613.0 L1710.0,612.2 L1713.0,611.4 L1716.0,610.7 L1719.0,609.9 L1722.0,609.2 L1725.0,608.4 L1728.0,607.7 L1731.0,607.0 L1734.0,606.3 L1737.0,605.5 L1740.0,604.8 L1743.0,604.1 L1746.0,603.4 L1749.0,602.7 L1752.0,602.0 L1755.0,601.3 L1758.0,600.6 L1761.0,599.9 L1764.0,599.3 L1767.0,598.6 L1770.0,598.0 L1773.0,597.3 L1776.0,596.7 L1779.0,596.1 L1782.0,595.6 L1785.0,595.1 L1788.0,594.6 L1791.0,594.1 L1794.0,593.7 L1797.0,593.3 L1800.0,592.9 L1803.0,592.6 L1806.0,592.4 L1809.0,592.2 L1812.0,592.0 L1815.0,591.9 L1818.0,591.9 L1821.0,591.9 L1824.0,592.0 L1827.0,592.1 L1830.0,592.4 L1833.0,592.6 L1836.0,592.9 L1839.0,593.3 L1842.0,593.7 L1845.0,594.2 L1848.0,594.7 L1851.0,595.2 L1854.0,595.8 L1857.0,596.4 L1860.0,597.1 L1863.0,597.8 L1866.0,598.5 L1869.0,599.2 L1872.0,600.0 L1875.0,600.7 L1878.0,601.5 L1881.0,602.3 L1884.0,603.1 L1887.0,603.9 L1890.0,604.7 L1893.0,605.5 L1896.0,606.3 L1899.0,607.1 L1902.0,607.9 L1905.0,608.7 L1908.0,609.4 L1911.0,610.2 L1914.0,610.9 L1917.0,611.6 L1920.0,612.3 L1923.0,613.0 L1926.0,613.6 L1929.0,614.2 L1932.0,614.8 L1935.0,615.4 L1938.0,615.9 L1941.0,616.5 L1944.0,616.9 L1947.0,617.4 L1950.0,617.9 L1953.0,618.3 L1956.0,618.7 L1959.0,619.0 L1962.0,619.3 L1965.0,619.6 L1968.0,619.9 L1971.0,620.2 L1974.0,620.4 L1977.0,620.6 L1980.0,620.7 L1983.0,620.8 L1986.0,620.9 L1989.0,621.0 L1992.0,621.0 L1995.0,621.0 L1998.0,621.0 L2001.0,620.9 L2004.0,620.8 L2007.0,620.7 L2010.0,620.5 L2013.0,620.3 L2016.0,620.1 L2019.0,619.8 L2022.0,619.5 L2025.0,619.2 L2028.0,618.8 L2031.0,618.4 L2034.0,617.9 L2037.0,617.4 L2040.0,616.9 L2043.0,616.3 L2046.0,615.8 L2049.0,615.1 L2052.0,614.5 L2055.0,613.8 L2058.0,613.2 L2061.0,612.4 L2064.0,611.7 L2067.0,610.9 L2070.0,610.2 L2073.0,609.4 L2076.0,608.5 L2079.0,607.7 L2082.0,606.9 L2085.0,606.0 L2088.0,605.1 L2091.0,604.2 L2094.0,603.3 L2097.0,602.4 L2100.0,601.5 L2103.0,600.5 L2106.0,599.6 L2109.0,598.6 L2112.0,597.7 L2115.0,596.7 L2118.0,595.8 L2121.0,594.8 L2124.0,593.9 L2127.0,592.9 L2130.0,591.9 L2133.0,591.0 L2136.0,590.0 L2139.0,589.1 L2142.0,588.2 L2145.0,587.2 L2148.0,586.3 L2151.0,585.4 L2154.0,584.5 L2157.0,583.6 L2160.0,582.7 L2163.0,581.9 L2166.0,581.1 L2169.0,580.2 L2172.0,579.4 L2175.0,578.6 L2178.0,577.9 L2181.0,577.1 L2184.0,576.4 L2187.0,575.7 L2190.0,575.0 L2193.0,574.4 L2196.0,573.8 L2199.0,573.2 L2202.0,572.6 L2205.0,572.1 L2208.0,571.6 L2211.0,571.1 L2214.0,570.7 L2217.0,570.3 L2220.0,569.9 L2223.0,569.6 L2226.0,569.3 L2229.0,569.1 L2232.0,568.9 L2232.1,568.9" fill="none" stroke="#D818D8" stroke-width="4.6" stroke-linejoin="round" stroke-linecap="butt"/>
<path d="M166.5,774.0 L187.3,870.2 L190.3,871.0 L193.3,871.9 L196.3,872.7 L199.3,873.5 L202.3,874.3 L205.3,875.1 L208.3,875.8 L211.3,876.6 L214.3,877.4 L217.3,878.1 L220.3,878.9 L223.3,879.6 L226.3,880.4 L229.3,881.1 L232.3,881.9 L235.3,882.6 L238.3,883.4 L241.3,884.2 L244.3,884.9 L247.3,885.7 L250.3,886.5 L253.3,887.3 L256.3,888.1 L259.3,888.9 L262.3,889.7 L265.3,890.6 L268.3,891.4 L271.3,892.3 L274.3,893.2 L277.3,894.0 L280.3,894.9 L283.3,895.8 L286.3,896.8 L289.3,897.7 L292.3,898.6 L295.3,899.6 L298.3,900.6 L301.3,901.5 L304.3,902.5 L307.3,903.5 L310.3,904.6 L313.3,905.6 L316.3,906.7 L319.3,907.8 L322.3,908.9 L325.3,910.1 L328.3,911.3 L331.3,912.5 L334.3,913.7 L337.3,915.0 L340.3,916.3 L343.3,917.7 L346.3,919.1 L349.3,920.6 L352.3,922.1 L355.3,923.6 L358.3,925.2 L361.3,926.9 L364.3,928.6 L367.3,930.4 L370.3,932.2 L373.3,934.1 L376.3,936.0 L379.3,938.1 L382.3,940.2 L385.3,942.3 L388.3,944.5 L391.3,946.9 L394.3,949.2 L397.3,951.7 L400.3,954.2 L403.3,956.9 L406.3,959.6 L409.3,962.3 L412.3,965.2 L415.3,968.1 L418.3,971.0 L421.3,974.0 L424.3,977.1 L427.3,980.3 L430.3,983.4 L433.3,986.7 L436.3,990.0 L439.3,993.3 L442.3,996.6 L445.3,1000.0 L448.3,1003.4 L451.3,1006.9 L454.3,1010.3 L457.3,1013.7 L460.3,1017.2 L463.3,1020.6 L466.3,1024.0 L469.3,1027.3 L472.3,1030.6 L475.3,1033.9 L478.3,1037.1 L481.3,1040.2 L484.3,1043.2 L487.3,1046.2 L490.3,1049.1 L493.3,1051.8 L496.3,1054.5 L499.3,1057.0 L502.3,1059.5 L505.3,1061.7 L508.3,1063.9 L511.3,1065.9 L514.3,1067.7 L517.3,1069.4 L520.3,1070.9 L523.3,1072.3 L526.3,1073.5 L529.3,1074.6 L532.3,1075.5 L535.3,1076.3 L538.3,1077.0 L541.3,1077.5 L544.3,1077.8 L547.3,1078.0 L550.3,1078.1 L553.3,1078.0 L556.3,1077.8 L559.3,1077.5 L562.3,1077.0 L565.3,1076.4 L568.3,1075.6 L571.3,1074.7 L574.3,1073.7 L577.3,1072.5 L580.3,1071.3 L583.3,1070.0 L586.3,1068.5 L589.3,1067.0 L592.3,1065.4 L595.3,1063.8 L598.3,1062.1 L601.3,1060.4 L604.3,1058.7 L607.3,1057.0 L610.3,1055.2 L613.3,1053.5 L616.3,1051.7 L619.3,1050.0 L622.3,1048.2 L625.3,1046.5 L628.3,1044.7 L631.3,1043.0 L634.3,1041.2 L637.3,1039.5 L640.3,1037.8 L643.3,1036.0 L646.3,1034.3 L649.3,1032.6 L652.3,1030.9 L655.3,1029.2 L658.3,1027.4 L661.3,1025.7 L664.3,1024.1 L667.3,1022.4 L670.3,1020.7 L673.3,1019.0 L676.3,1017.4 L679.3,1015.7 L682.3,1014.1 L685.3,1012.4 L688.3,1010.8 L691.3,1009.2 L694.3,1007.6 L697.3,1006.0 L700.3,1004.4 L703.3,1002.8 L706.3,1001.3 L709.3,999.7 L712.3,998.2 L715.3,996.7 L718.3,995.1 L721.3,993.6 L724.3,992.2 L727.3,990.7 L730.3,989.3 L733.3,987.8 L736.3,986.4 L739.3,985.0 L742.3,983.6 L745.3,982.3 L748.3,980.9 L751.3,979.6 L754.3,978.3 L757.3,977.0 L760.3,975.7 L763.3,974.4 L766.3,973.2 L769.3,972.0 L772.3,970.8 L775.3,969.6 L778.3,968.5 L781.3,967.3 L784.3,966.2 L787.3,965.1 L790.3,964.1 L793.3,963.0 L796.3,962.0 L799.3,961.0 L802.3,960.0 L805.3,959.0 L808.3,958.1 L811.3,957.1 L814.3,956.2 L817.3,955.3 L820.3,954.4 L823.3,953.6 L826.3,952.7 L829.3,951.9 L832.3,951.0 L835.3,950.2 L838.3,949.4 L841.3,948.6 L844.3,947.9 L847.3,947.1 L850.3,946.4 L853.3,945.6 L856.3,944.9 L859.3,944.2 L862.3,943.5 L865.3,942.8 L868.3,942.1 L871.3,941.4 L874.3,940.7 L877.3,940.0 L880.3,939.4 L883.3,938.7 L886.3,938.1 L889.3,937.5 L892.3,936.8 L895.3,936.2 L898.3,935.6 L901.3,935.0 L904.3,934.3 L907.3,933.7 L910.3,933.1 L913.3,932.5 L916.3,931.9 L919.3,931.4 L922.3,930.8 L925.3,930.2 L928.3,929.6 L931.3,929.1 L934.3,928.5 L937.3,928.0 L940.3,927.4 L943.3,926.9 L946.3,926.3 L949.3,925.8 L952.3,925.3 L955.3,924.7 L958.3,924.2 L961.3,923.7 L964.3,923.2 L967.3,922.7 L970.3,922.2 L973.3,921.7 L976.3,921.2 L979.3,920.7 L982.3,920.2 L985.3,919.8 L988.3,919.3 L991.3,918.8 L994.3,918.4 L997.3,917.9 L1000.3,917.5 L1003.3,917.0 L1006.3,916.6 L1009.3,916.2 L1012.3,915.7 L1015.3,915.3 L1018.3,914.9 L1021.3,914.5 L1024.3,914.1 L1027.3,913.7 L1030.3,913.3 L1033.3,912.9 L1036.3,912.5 L1039.3,912.1 L1042.3,911.7 L1045.3,911.3 L1048.3,911.0 L1051.3,910.6 L1054.3,910.2 L1057.3,909.9 L1060.3,909.5 L1063.3,909.2 L1066.3,908.8 L1069.3,908.5 L1072.3,908.2 L1075.3,907.8 L1078.3,907.5 L1081.3,907.2 L1084.3,906.9 L1087.3,906.6 L1090.3,906.3 L1093.3,905.9 L1096.3,905.6 L1099.3,905.3 L1102.3,905.0 L1105.3,904.8 L1108.3,904.5 L1111.3,904.2 L1114.3,903.9 L1117.3,903.6 L1120.3,903.4 L1123.3,903.1 L1126.3,902.8 L1129.3,902.5 L1132.3,902.3 L1135.3,902.0 L1138.3,901.8 L1141.3,901.5 L1144.3,901.3 L1147.3,901.0 L1150.3,900.8 L1153.3,900.5 L1156.3,900.3 L1159.3,900.1 L1162.3,899.8 L1165.3,899.6 L1168.3,899.4 L1171.3,899.2 L1174.3,898.9 L1177.3,898.7 L1180.3,898.5 L1183.3,898.3 L1186.3,898.1 L1189.3,897.9 L1192.3,897.7 L1195.3,897.5 L1198.3,897.2 L1201.3,897.0 L1204.3,896.8 L1207.3,896.6 L1210.3,896.5 L1213.3,896.3 L1216.3,896.1 L1219.3,895.9 L1222.3,895.7 L1225.3,895.5 L1228.3,895.3 L1231.3,895.1 L1234.3,894.9 L1237.3,894.8 L1240.3,894.6 L1243.3,894.4 L1246.3,894.2 L1249.3,894.0 L1252.3,893.9 L1255.3,893.7 L1258.3,893.5 L1261.3,893.3 L1264.3,893.2 L1267.3,893.0 L1270.3,892.8 L1273.3,892.6 L1276.3,892.5 L1279.3,892.3 L1282.3,892.1 L1285.3,892.0 L1288.3,891.8 L1291.3,891.6 L1294.3,891.5 L1297.3,891.3 L1300.3,891.1 L1303.3,890.9 L1306.3,890.8 L1309.3,890.6 L1312.3,890.4 L1315.3,890.3 L1318.3,890.1 L1321.3,889.9 L1324.3,889.8 L1327.3,889.6 L1330.3,889.4 L1333.3,889.3 L1336.3,889.1 L1339.3,888.9 L1342.3,888.8 L1345.3,888.6 L1348.3,888.4 L1351.3,888.2 L1354.3,888.1 L1357.3,887.9 L1360.3,887.7 L1363.3,887.5 L1366.3,887.4 L1369.3,887.2 L1372.3,887.0 L1375.3,886.8 L1378.3,886.6 L1381.3,886.5 L1384.3,886.3 L1387.3,886.1 L1390.3,885.9 L1393.3,885.7 L1396.3,885.5 L1399.3,885.3 L1402.3,885.1 L1405.3,884.9 L1408.3,884.7 L1411.3,884.5 L1414.3,884.3 L1417.3,884.1 L1420.3,883.9 L1423.3,883.7 L1426.3,883.5 L1429.3,883.3 L1432.3,883.1 L1435.3,882.9 L1438.3,882.7 L1441.3,882.5 L1444.3,882.3 L1447.3,882.1 L1450.3,881.8 L1453.3,881.6 L1456.3,881.4 L1459.3,881.2 L1462.3,881.0 L1465.3,880.7 L1468.3,880.5 L1471.3,880.3 L1474.3,880.0 L1477.3,879.8 L1480.3,879.6 L1483.3,879.3 L1486.3,879.1 L1489.3,878.8 L1492.3,878.6 L1495.3,878.4 L1498.3,878.1 L1501.3,877.9 L1504.3,877.6 L1507.3,877.3 L1510.3,877.1 L1513.3,876.8 L1516.3,876.6 L1519.3,876.3 L1522.3,876.0 L1525.3,875.8 L1528.3,875.5 L1531.3,875.2 L1534.3,874.9 L1537.3,874.7 L1540.3,874.4 L1543.3,874.1 L1546.3,873.8 L1549.3,873.5 L1552.3,873.2 L1555.3,872.9 L1558.3,872.6 L1561.3,872.3 L1564.3,872.0 L1567.3,871.7 L1570.3,871.4 L1573.3,871.1 L1576.3,870.8 L1579.3,870.5 L1582.3,870.2 L1585.3,869.8 L1588.3,869.5 L1591.3,869.2 L1594.3,868.9 L1597.3,868.5 L1600.3,868.2 L1603.3,867.8 L1606.3,867.5 L1609.3,867.2 L1612.3,866.8 L1615.3,866.5 L1618.3,866.1 L1621.3,865.7 L1624.3,865.4 L1627.3,865.0 L1630.3,864.7 L1633.3,864.3 L1636.3,863.9 L1639.3,863.5 L1642.3,863.2 L1645.3,862.8 L1645.8,862.7 L1648.8,861.7 L1651.8,860.7 L1654.8,859.6 L1657.8,858.5 L1660.8,857.4 L1663.8,856.2 L1666.8,855.0 L1669.8,853.7 L1672.8,852.5 L1675.8,851.2 L1678.8,849.9 L1681.8,848.6 L1684.8,847.3 L1687.8,846.1 L1690.8,844.8 L1693.8,843.5 L1696.8,842.3 L1699.8,841.0 L1702.8,839.8 L1705.8,838.6 L1708.8,837.4 L1711.8,836.2 L1714.8,835.1 L1717.8,834.0 L1720.8,832.9 L1723.8,831.8 L1726.8,830.8 L1729.8,829.8 L1732.8,828.8 L1735.8,827.8 L1738.8,826.9 L1741.8,826.0 L1744.8,825.1 L1747.8,824.2 L1750.8,823.4 L1753.8,822.6 L1756.8,821.8 L1759.8,821.0 L1762.8,820.2 L1765.8,819.5 L1768.8,818.8 L1771.8,818.1 L1774.8,817.4 L1777.8,816.7 L1780.8,816.1 L1783.8,815.5 L1786.8,814.9 L1789.8,814.4 L1792.8,813.9 L1795.8,813.4 L1798.8,813.0 L1801.8,812.7 L1804.8,812.4 L1807.8,812.1 L1810.8,812.0 L1813.8,811.8 L1816.8,811.7 L1819.8,811.7 L1822.8,811.7 L1825.8,811.8 L1828.8,811.9 L1831.8,812.0 L1834.8,812.2 L1837.8,812.5 L1840.8,812.8 L1843.8,813.1 L1846.8,813.5 L1849.8,813.9 L1852.8,814.4 L1855.8,814.9 L1858.8,815.4 L1861.8,816.0 L1864.8,816.6 L1867.8,817.2 L1870.8,817.9 L1873.8,818.6 L1876.8,819.4 L1879.8,820.2 L1882.8,821.0 L1885.8,821.8 L1888.8,822.7 L1891.8,823.5 L1894.8,824.4 L1897.8,825.3 L1900.8,826.2 L1903.8,827.1 L1906.8,828.0 L1909.8,828.9 L1912.8,829.8 L1915.8,830.7 L1918.8,831.6 L1921.8,832.5 L1924.8,833.3 L1927.8,834.1 L1930.8,834.9 L1933.8,835.6 L1936.8,836.4 L1939.8,837.0 L1942.8,837.7 L1945.8,838.3 L1948.8,838.8 L1951.8,839.3 L1954.8,839.8 L1957.8,840.2 L1960.8,840.5 L1963.8,840.8 L1966.8,841.0 L1969.8,841.2 L1972.8,841.3 L1975.8,841.4 L1978.8,841.5 L1981.8,841.5 L1984.8,841.4 L1987.8,841.3 L1990.8,841.2 L1993.8,841.0 L1996.8,840.8 L1999.8,840.5 L2002.8,840.2 L2005.8,839.8 L2008.8,839.4 L2011.8,839.0 L2014.8,838.5 L2017.8,838.0 L2020.8,837.5 L2023.8,836.9 L2026.8,836.3 L2029.8,835.7 L2032.8,835.0 L2035.8,834.3 L2038.8,833.5 L2041.8,832.8 L2044.8,832.0 L2047.8,831.1 L2050.8,830.3 L2053.8,829.4 L2056.8,828.5 L2059.8,827.6 L2062.8,826.6 L2065.8,825.6 L2068.8,824.6 L2071.8,823.6 L2074.8,822.6 L2077.8,821.5 L2080.8,820.4 L2083.8,819.2 L2086.8,818.1 L2089.8,816.9 L2092.8,815.7 L2095.8,814.4 L2098.8,813.1 L2101.8,811.8 L2104.8,810.5 L2107.8,809.1 L2110.8,807.7 L2113.8,806.2 L2116.8,804.7 L2119.8,803.1 L2122.8,801.6 L2125.8,799.9 L2128.8,798.3 L2131.8,796.5 L2134.8,794.8 L2137.8,793.0 L2140.8,791.1 L2143.8,789.2 L2146.8,787.3 L2149.8,785.3 L2152.8,783.3 L2155.8,781.3 L2158.8,779.3 L2161.8,777.3 L2164.8,775.3 L2167.8,773.3 L2170.8,771.3 L2173.8,769.4 L2176.8,767.5 L2179.8,765.6 L2182.8,763.8 L2185.8,762.0 L2188.8,760.3 L2191.8,758.7 L2194.8,757.1 L2197.8,755.6 L2200.8,754.2 L2203.8,752.8 L2206.8,751.6 L2209.8,750.4 L2212.8,749.4 L2215.8,748.4 L2218.8,747.5 L2221.8,746.8 L2224.8,746.1 L2227.8,745.6 L2230.8,745.2 L2232.1,745.0" fill="none" stroke="#0707D2" stroke-width="4.6" stroke-linejoin="round" stroke-linecap="butt"/>
<path d="M166.5,998.0 L187.3,1094.0 L190.3,1095.0 L193.3,1096.0 L196.3,1097.0 L199.3,1098.0 L202.3,1099.0 L205.3,1100.1 L208.3,1101.1 L211.3,1102.1 L214.3,1103.2 L217.3,1104.2 L220.3,1105.3 L223.3,1106.3 L226.3,1107.4 L229.3,1108.4 L232.3,1109.5 L235.3,1110.6 L238.3,1111.6 L241.3,1112.7 L244.3,1113.7 L247.3,1114.8 L250.3,1115.8 L253.3,1116.9 L256.3,1117.9 L259.3,1119.0 L262.3,1120.0 L265.3,1121.0 L268.3,1122.1 L271.3,1123.1 L274.3,1124.1 L277.3,1125.1 L280.3,1126.2 L283.3,1127.2 L286.3,1128.3 L289.3,1129.3 L292.3,1130.4 L295.3,1131.5 L298.3,1132.6 L301.3,1133.7 L304.3,1134.8 L307.3,1136.0 L310.3,1137.2 L313.3,1138.4 L316.3,1139.6 L319.3,1140.8 L322.3,1142.1 L325.3,1143.4 L328.3,1144.8 L331.3,1146.2 L334.3,1147.6 L337.3,1149.0 L340.3,1150.6 L343.3,1152.1 L346.3,1153.7 L349.3,1155.4 L352.3,1157.1 L355.3,1158.9 L358.3,1160.7 L361.3,1162.7 L364.3,1164.7 L367.3,1166.7 L370.3,1168.9 L373.3,1171.2 L376.3,1173.5 L379.3,1175.9 L382.3,1178.4 L385.3,1180.9 L388.3,1183.4 L391.3,1186.0 L394.3,1188.6 L397.3,1191.1 L400.3,1193.7 L403.3,1196.2 L406.3,1198.7 L409.3,1201.2 L412.3,1203.6 L415.3,1206.0 L418.3,1208.3 L421.3,1210.6 L424.3,1212.9 L427.3,1215.0 L430.3,1217.1 L433.3,1219.0 L436.3,1220.8 L439.3,1222.5 L442.3,1223.9 L445.3,1225.2 L448.3,1226.3 L451.3,1227.3 L454.3,1228.0 L457.3,1228.5 L460.3,1228.9 L463.3,1229.1 L466.3,1229.2 L469.3,1229.1 L472.3,1228.8 L475.3,1228.5 L478.3,1227.9 L481.3,1227.3 L484.3,1226.5 L487.3,1225.6 L490.3,1224.6 L493.3,1223.5 L496.3,1222.4 L499.3,1221.1 L502.3,1219.7 L505.3,1218.3 L508.3,1216.8 L511.3,1215.2 L514.3,1213.5 L517.3,1211.8 L520.3,1210.1 L523.3,1208.3 L526.3,1206.5 L529.3,1204.7 L532.3,1202.8 L535.3,1201.0 L538.3,1199.1 L541.3,1197.2 L544.3,1195.4 L547.3,1193.5 L550.3,1191.6 L553.3,1189.8 L556.3,1188.0 L559.3,1186.2 L562.3,1184.4 L565.3,1182.7 L568.3,1181.0 L571.3,1179.2 L574.3,1177.5 L577.3,1175.9 L580.3,1174.2 L583.3,1172.6 L586.3,1171.0 L589.3,1169.4 L592.3,1167.8 L595.3,1166.3 L598.3,1164.7 L601.3,1163.2 L604.3,1161.7 L607.3,1160.3 L610.3,1158.9 L613.3,1157.5 L616.3,1156.1 L619.3,1154.7 L622.3,1153.4 L625.3,1152.1 L628.3,1150.8 L631.3,1149.5 L634.3,1148.3 L637.3,1147.1 L640.3,1145.9 L643.3,1144.8 L646.3,1143.7 L649.3,1142.5 L652.3,1141.5 L655.3,1140.4 L658.3,1139.4 L661.3,1138.3 L664.3,1137.3 L667.3,1136.4 L670.3,1135.4 L673.3,1134.5 L676.3,1133.5 L679.3,1132.6 L682.3,1131.7 L685.3,1130.9 L688.3,1130.0 L691.3,1129.2 L694.3,1128.3 L697.3,1127.5 L700.3,1126.7 L703.3,1126.0 L706.3,1125.2 L709.3,1124.4 L712.3,1123.7 L715.3,1122.9 L718.3,1122.2 L721.3,1121.5 L724.3,1120.8 L727.3,1120.1 L730.3,1119.4 L733.3,1118.7 L736.3,1118.0 L739.3,1117.4 L742.3,1116.7 L745.3,1116.0 L748.3,1115.4 L751.3,1114.7 L754.3,1114.1 L757.3,1113.5 L760.3,1112.8 L763.3,1112.2 L766.3,1111.6 L769.3,1111.0 L772.3,1110.3 L775.3,1109.7 L778.3,1109.1 L781.3,1108.5 L784.3,1108.0 L787.3,1107.4 L790.3,1106.8 L793.3,1106.2 L796.3,1105.7 L799.3,1105.1 L802.3,1104.6 L805.3,1104.1 L808.3,1103.6 L811.3,1103.0 L814.3,1102.5 L817.3,1102.0 L820.3,1101.6 L823.3,1101.1 L826.3,1100.6 L829.3,1100.2 L832.3,1099.7 L835.3,1099.3 L838.3,1098.9 L841.3,1098.5 L844.3,1098.1 L847.3,1097.7 L850.3,1097.3 L853.3,1097.0 L856.3,1096.6 L859.3,1096.3 L862.3,1095.9 L865.3,1095.6 L868.3,1095.3 L871.3,1095.0 L874.3,1094.7 L877.3,1094.4 L880.3,1094.2 L883.3,1093.9 L886.3,1093.7 L889.3,1093.4 L892.3,1093.2 L895.3,1093.0 L898.3,1092.8 L901.3,1092.5 L904.3,1092.3 L907.3,1092.2 L910.3,1092.0 L913.3,1091.8 L916.3,1091.6 L919.3,1091.5 L922.3,1091.3 L925.3,1091.2 L928.3,1091.0 L931.3,1090.9 L934.3,1090.8 L937.3,1090.6 L940.3,1090.5 L943.3,1090.4 L946.3,1090.3 L949.3,1090.2 L952.3,1090.1 L955.3,1090.0 L958.3,1089.9 L961.3,1089.9 L964.3,1089.8 L967.3,1089.7 L970.3,1089.7 L973.3,1089.6 L976.3,1089.5 L979.3,1089.5 L982.3,1089.4 L985.3,1089.4 L988.3,1089.3 L991.3,1089.3 L994.3,1089.3 L997.3,1089.2 L1000.3,1089.2 L1003.3,1089.2 L1006.3,1089.1 L1009.3,1089.1 L1012.3,1089.1 L1015.3,1089.1 L1018.3,1089.0 L1021.3,1089.0 L1024.3,1089.0 L1027.3,1089.0 L1030.3,1089.0 L1033.3,1088.9 L1036.3,1088.9 L1039.3,1088.9 L1042.3,1088.9 L1045.3,1088.9 L1048.3,1088.9 L1051.3,1088.8 L1054.3,1088.8 L1057.3,1088.8 L1060.3,1088.8 L1063.3,1088.8 L1066.3,1088.7 L1069.3,1088.7 L1072.3,1088.7 L1075.3,1088.7 L1078.3,1088.6 L1081.3,1088.6 L1084.3,1088.6 L1087.3,1088.5 L1090.3,1088.5 L1093.3,1088.4 L1096.3,1088.4 L1099.3,1088.4 L1102.3,1088.3 L1105.3,1088.2 L1108.3,1088.2 L1111.3,1088.1 L1114.3,1088.1 L1117.3,1088.0 L1120.3,1087.9 L1123.3,1087.9 L1126.3,1087.8 L1129.3,1087.7 L1132.3,1087.6 L1135.3,1087.6 L1138.3,1087.5 L1141.3,1087.4 L1144.3,1087.3 L1147.3,1087.2 L1150.3,1087.2 L1153.3,1087.1 L1156.3,1087.0 L1159.3,1086.9 L1162.3,1086.8 L1165.3,1086.7 L1168.3,1086.6 L1171.3,1086.5 L1174.3,1086.4 L1177.3,1086.3 L1180.3,1086.3 L1183.3,1086.2 L1186.3,1086.1 L1189.3,1086.0 L1192.3,1085.9 L1195.3,1085.8 L1198.3,1085.7 L1201.3,1085.6 L1204.3,1085.5 L1207.3,1085.4 L1210.3,1085.3 L1213.3,1085.2 L1216.3,1085.1 L1219.3,1085.0 L1222.3,1084.9 L1225.3,1084.8 L1228.3,1084.8 L1231.3,1084.7 L1234.3,1084.6 L1237.3,1084.5 L1240.3,1084.4 L1243.3,1084.3 L1246.3,1084.2 L1249.3,1084.2 L1252.3,1084.1 L1255.3,1084.0 L1258.3,1083.9 L1261.3,1083.8 L1264.3,1083.8 L1267.3,1083.7 L1270.3,1083.6 L1273.3,1083.6 L1276.3,1083.5 L1279.3,1083.4 L1282.3,1083.4 L1285.3,1083.3 L1288.3,1083.3 L1291.3,1083.2 L1294.3,1083.2 L1297.3,1083.2 L1300.3,1083.1 L1303.3,1083.1 L1306.3,1083.1 L1309.3,1083.1 L1312.3,1083.1 L1315.3,1083.0 L1318.3,1083.0 L1321.3,1083.0 L1324.3,1083.1 L1327.3,1083.1 L1330.3,1083.1 L1333.3,1083.1 L1336.3,1083.1 L1339.3,1083.2 L1342.3,1083.2 L1345.3,1083.3 L1348.3,1083.3 L1351.3,1083.4 L1354.3,1083.5 L1357.3,1083.5 L1360.3,1083.6 L1363.3,1083.7 L1366.3,1083.8 L1369.3,1083.9 L1372.3,1084.1 L1375.3,1084.2 L1378.3,1084.3 L1381.3,1084.5 L1384.3,1084.6 L1387.3,1084.8 L1390.3,1084.9 L1393.3,1085.1 L1396.3,1085.3 L1399.3,1085.5 L1402.3,1085.7 L1405.3,1085.9 L1408.3,1086.2 L1411.3,1086.4 L1414.3,1086.6 L1417.3,1086.9 L1420.3,1087.2 L1423.3,1087.4 L1426.3,1087.7 L1429.3,1088.0 L1432.3,1088.3 L1435.3,1088.7 L1438.3,1089.0 L1441.3,1089.4 L1444.3,1089.7 L1447.3,1090.1 L1450.3,1090.5 L1453.3,1090.9 L1456.3,1091.3 L1459.3,1091.7 L1462.3,1092.1 L1465.3,1092.6 L1468.3,1093.0 L1471.3,1093.5 L1474.3,1094.0 L1477.3,1094.5 L1480.3,1095.0 L1483.3,1095.5 L1486.3,1096.1 L1489.3,1096.6 L1492.3,1097.2 L1495.3,1097.8 L1498.3,1098.4 L1501.3,1099.0 L1504.3,1099.7 L1507.3,1100.3 L1510.3,1100.9 L1513.3,1101.6 L1516.3,1102.3 L1519.3,1103.0 L1522.3,1103.7 L1525.3,1104.4 L1528.3,1105.1 L1531.3,1105.8 L1534.3,1106.5 L1537.3,1107.2 L1540.3,1108.0 L1543.3,1108.7 L1546.3,1109.4 L1549.3,1110.2 L1552.3,1110.9 L1555.3,1111.7 L1558.3,1112.4 L1561.3,1113.1 L1564.3,1113.9 L1567.3,1114.6 L1570.3,1115.3 L1573.3,1116.1 L1576.3,1116.8 L1579.3,1117.5 L1582.3,1118.2 L1585.3,1118.9 L1588.3,1119.6 L1591.3,1120.3 L1594.3,1121.0 L1597.3,1121.7 L1600.3,1122.3 L1603.3,1123.0 L1606.3,1123.6 L1609.3,1124.2 L1612.3,1124.8 L1615.3,1125.4 L1618.3,1125.9 L1621.3,1126.4 L1624.3,1126.9 L1627.3,1127.4 L1630.3,1127.8 L1633.3,1128.2 L1636.3,1128.5 L1639.3,1128.8 L1642.3,1129.0 L1645.3,1129.2 L1648.3,1129.4 L1651.3,1129.5 L1654.3,1129.5 L1657.3,1129.4 L1660.3,1129.3 L1663.3,1129.2 L1666.3,1129.0 L1669.3,1128.7 L1672.3,1128.4 L1675.3,1128.0 L1678.3,1127.6 L1681.3,1127.1 L1684.3,1126.6 L1687.3,1126.1 L1690.3,1125.5 L1693.3,1124.8 L1696.3,1124.1 L1699.3,1123.4 L1702.3,1122.7 L1705.3,1121.9 L1708.3,1121.1 L1711.3,1120.3 L1714.3,1119.4 L1717.3,1118.5 L1720.3,1117.6 L1723.3,1116.7 L1726.3,1115.7 L1729.3,1114.8 L1732.3,1113.8 L1735.3,1112.8 L1738.3,1111.8 L1741.3,1110.8 L1744.3,1109.7 L1747.3,1108.7 L1750.3,1107.7 L1753.3,1106.6 L1756.3,1105.6 L1759.3,1104.5 L1762.3,1103.5 L1765.3,1102.5 L1768.3,1101.4 L1771.3,1100.4 L1774.3,1099.4 L1777.3,1098.4 L1780.3,1097.4 L1783.3,1096.5 L1786.3,1095.5 L1789.3,1094.6 L1792.3,1093.7 L1795.3,1092.8 L1798.3,1092.0 L1801.3,1091.1 L1804.3,1090.3 L1807.3,1089.5 L1810.3,1088.8 L1813.3,1088.1 L1816.3,1087.4 L1819.3,1086.8 L1822.3,1086.2 L1825.3,1085.6 L1828.3,1085.0 L1831.3,1084.5 L1834.3,1084.0 L1837.3,1083.5 L1840.3,1083.1 L1843.3,1082.6 L1846.3,1082.2 L1849.3,1081.9 L1852.3,1081.5 L1855.3,1081.2 L1858.3,1080.9 L1861.3,1080.6 L1864.3,1080.3 L1867.3,1080.0 L1870.3,1079.8 L1873.3,1079.6 L1876.3,1079.4 L1879.3,1079.2 L1882.3,1079.0 L1885.3,1078.8 L1888.3,1078.7 L1891.3,1078.5 L1894.3,1078.4 L1897.3,1078.3 L1900.3,1078.2 L1903.3,1078.1 L1906.3,1078.0 L1909.3,1077.9 L1912.3,1077.8 L1915.3,1077.8 L1918.3,1077.7 L1921.3,1077.6 L1924.3,1077.6 L1927.3,1077.5 L1930.3,1077.5 L1933.3,1077.4 L1936.3,1077.3 L1939.3,1077.3 L1942.3,1077.2 L1945.3,1077.2 L1948.3,1077.1 L1951.3,1077.1 L1954.3,1077.0 L1957.3,1076.9 L1960.3,1076.8 L1963.3,1076.7 L1966.3,1076.6 L1969.3,1076.5 L1972.3,1076.4 L1975.3,1076.3 L1978.3,1076.2 L1981.3,1076.1 L1984.3,1075.9 L1987.3,1075.8 L1990.3,1075.6 L1993.3,1075.5 L1996.3,1075.4 L1999.3,1075.2 L2002.3,1075.1 L2005.3,1074.9 L2008.3,1074.8 L2011.3,1074.6 L2014.3,1074.5 L2017.3,1074.4 L2020.3,1074.3 L2023.3,1074.2 L2026.3,1074.1 L2029.3,1074.0 L2032.3,1073.9 L2035.3,1073.8 L2038.3,1073.7 L2041.3,1073.7 L2044.3,1073.7 L2047.3,1073.6 L2050.3,1073.6 L2053.3,1073.7 L2056.3,1073.7 L2059.3,1073.7 L2062.3,1073.8 L2065.3,1073.9 L2068.3,1074.0 L2071.3,1074.1 L2074.3,1074.3 L2077.3,1074.5 L2080.3,1074.7 L2083.3,1074.9 L2086.3,1075.2 L2089.3,1075.4 L2092.3,1075.7 L2095.3,1076.0 L2098.3,1076.3 L2101.3,1076.7 L2104.3,1077.1 L2107.3,1077.5 L2110.3,1077.9 L2113.3,1078.3 L2116.3,1078.7 L2119.3,1079.2 L2122.3,1079.7 L2125.3,1080.2 L2127.6,1080.6 L2144.9,1087.5 L2147.9,1087.1 L2150.9,1086.7 L2153.9,1086.4 L2156.9,1086.1 L2159.9,1085.9 L2162.9,1085.7 L2165.9,1085.5 L2168.9,1085.4 L2171.9,1085.3 L2174.9,1085.3 L2177.9,1085.2 L2180.9,1085.2 L2183.9,1085.3 L2186.9,1085.3 L2189.9,1085.4 L2192.9,1085.5 L2195.9,1085.6 L2198.9,1085.8 L2201.9,1085.9 L2204.9,1086.1 L2207.9,1086.3 L2210.9,1086.5 L2213.9,1086.7 L2216.9,1086.9 L2219.9,1087.1 L2222.9,1087.3 L2225.9,1087.5 L2228.9,1087.8 L2231.9,1088.0 L2232.1,1088.0" fill="none" stroke="#DD1212" stroke-width="4.6" stroke-linejoin="round" stroke-linecap="butt"/>
<path d="M166.5,1198.0 L187.3,1285.8 L190.3,1286.8 L193.3,1287.7 L196.3,1288.6 L199.3,1289.5 L202.3,1290.4 L205.3,1291.3 L208.3,1292.2 L211.3,1293.0 L214.3,1293.9 L217.3,1294.7 L220.3,1295.6 L223.3,1296.4 L226.3,1297.2 L229.3,1298.0 L232.3,1298.8 L235.3,1299.6 L238.3,1300.4 L241.3,1301.2 L244.3,1302.0 L247.3,1302.7 L250.3,1303.5 L253.3,1304.3 L256.3,1305.1 L259.3,1305.9 L262.3,1306.7 L265.3,1307.5 L268.3,1308.3 L271.3,1309.1 L274.3,1309.9 L277.3,1310.8 L280.3,1311.6 L283.3,1312.4 L286.3,1313.3 L289.3,1314.2 L292.3,1315.1 L295.3,1316.0 L298.3,1316.9 L301.3,1317.8 L304.3,1318.8 L307.3,1319.7 L310.3,1320.7 L313.3,1321.7 L316.3,1322.7 L319.3,1323.8 L322.3,1324.9 L325.3,1326.0 L328.3,1327.1 L331.3,1328.2 L334.3,1329.4 L337.3,1330.6 L340.3,1331.8 L343.3,1333.1 L346.3,1334.4 L349.3,1335.7 L352.3,1337.0 L355.3,1338.4 L358.3,1339.8 L361.3,1341.3 L364.3,1342.7 L367.3,1344.3 L370.3,1345.8 L373.3,1347.4 L376.3,1349.1 L379.3,1350.7 L382.3,1352.4 L385.3,1354.2 L388.3,1356.0 L391.3,1357.8 L394.3,1359.6 L397.3,1361.5 L400.3,1363.4 L403.3,1365.4 L406.3,1367.4 L409.3,1369.4 L412.3,1371.5 L415.3,1373.6 L418.3,1375.8 L421.3,1378.0 L424.3,1380.2 L427.3,1382.4 L430.3,1384.7 L433.3,1387.0 L436.3,1389.3 L439.3,1391.7 L442.3,1394.0 L445.3,1396.3 L448.3,1398.7 L451.3,1401.0 L454.3,1403.3 L457.3,1405.6 L460.3,1407.8 L463.3,1410.0 L466.3,1412.2 L469.3,1414.4 L472.3,1416.4 L475.3,1418.4 L478.3,1420.4 L481.3,1422.2 L484.3,1423.9 L487.3,1425.6 L490.3,1427.1 L493.3,1428.4 L496.3,1429.7 L499.3,1430.8 L502.3,1431.7 L505.3,1432.5 L508.3,1433.1 L511.3,1433.5 L514.3,1433.8 L517.3,1433.9 L520.3,1433.9 L523.3,1433.8 L526.3,1433.5 L529.3,1433.1 L532.3,1432.6 L535.3,1432.0 L538.3,1431.3 L541.3,1430.4 L544.3,1429.5 L547.3,1428.5 L550.3,1427.4 L553.3,1426.2 L556.3,1424.9 L559.3,1423.6 L562.3,1422.2 L565.3,1420.7 L568.3,1419.2 L571.3,1417.7 L574.3,1416.1 L577.3,1414.5 L580.3,1412.8 L583.3,1411.2 L586.3,1409.5 L589.3,1407.8 L592.3,1406.1 L595.3,1404.4 L598.3,1402.7 L601.3,1401.0 L604.3,1399.4 L607.3,1397.7 L610.3,1396.1 L613.3,1394.5 L616.3,1392.9 L619.3,1391.4 L622.3,1389.9 L625.3,1388.4 L628.3,1386.9 L631.3,1385.4 L634.3,1384.0 L637.3,1382.5 L640.3,1381.1 L643.3,1379.8 L646.3,1378.4 L649.3,1377.1 L652.3,1375.8 L655.3,1374.5 L658.3,1373.2 L661.3,1371.9 L664.3,1370.7 L667.3,1369.5 L670.3,1368.3 L673.3,1367.1 L676.3,1365.9 L679.3,1364.8 L682.3,1363.6 L685.3,1362.5 L688.3,1361.4 L691.3,1360.3 L694.3,1359.3 L697.3,1358.2 L700.3,1357.2 L703.3,1356.2 L706.3,1355.2 L709.3,1354.2 L712.3,1353.2 L715.3,1352.3 L718.3,1351.4 L721.3,1350.4 L724.3,1349.5 L727.3,1348.6 L730.3,1347.8 L733.3,1346.9 L736.3,1346.1 L739.3,1345.2 L742.3,1344.4 L745.3,1343.6 L748.3,1342.8 L751.3,1342.0 L754.3,1341.2 L757.3,1340.5 L760.3,1339.7 L763.3,1339.0 L766.3,1338.3 L769.3,1337.6 L772.3,1336.9 L775.3,1336.2 L778.3,1335.6 L781.3,1334.9 L784.3,1334.2 L787.3,1333.6 L790.3,1333.0 L793.3,1332.4 L796.3,1331.8 L799.3,1331.2 L802.3,1330.6 L805.3,1330.0 L808.3,1329.5 L811.3,1328.9 L814.3,1328.4 L817.3,1327.8 L820.3,1327.3 L823.3,1326.8 L826.3,1326.3 L829.3,1325.8 L832.3,1325.3 L835.3,1324.9 L838.3,1324.4 L841.3,1323.9 L844.3,1323.5 L847.3,1323.0 L850.3,1322.6 L853.3,1322.2 L856.3,1321.8 L859.3,1321.4 L862.3,1321.0 L865.3,1320.6 L868.3,1320.2 L871.3,1319.8 L874.3,1319.4 L877.3,1319.1 L880.3,1318.7 L883.3,1318.3 L886.3,1318.0 L889.3,1317.7 L892.3,1317.3 L895.3,1317.0 L898.3,1316.7 L901.3,1316.4 L904.3,1316.0 L907.3,1315.7 L910.3,1315.4 L913.3,1315.1 L916.3,1314.8 L919.3,1314.6 L922.3,1314.3 L925.3,1314.0 L928.3,1313.7 L931.3,1313.4 L934.3,1313.2 L937.3,1312.9 L940.3,1312.6 L943.3,1312.4 L946.3,1312.1 L949.3,1311.9 L952.3,1311.6 L955.3,1311.4 L958.3,1311.2 L961.3,1310.9 L964.3,1310.7 L967.3,1310.4 L970.3,1310.2 L973.3,1310.0 L976.3,1309.7 L979.3,1309.5 L982.3,1309.3 L985.3,1309.1 L988.3,1308.8 L991.3,1308.6 L994.3,1308.4 L997.3,1308.2 L1000.3,1307.9 L1003.3,1307.7 L1006.3,1307.5 L1009.3,1307.3 L1012.3,1307.1 L1015.3,1306.8 L1018.3,1306.6 L1021.3,1306.4 L1024.3,1306.2 L1027.3,1305.9 L1030.3,1305.7 L1033.3,1305.5 L1036.3,1305.3 L1039.3,1305.0 L1042.3,1304.8 L1045.3,1304.6 L1048.3,1304.3 L1051.3,1304.1 L1054.3,1303.8 L1057.3,1303.6 L1060.3,1303.4 L1063.3,1303.1 L1066.3,1302.9 L1069.3,1302.6 L1072.3,1302.4 L1075.3,1302.1 L1078.3,1301.8 L1081.3,1301.6 L1084.3,1301.3 L1087.3,1301.0 L1090.3,1300.7 L1093.3,1300.4 L1096.3,1300.2 L1099.3,1299.9 L1102.3,1299.6 L1103.0,1299.5 L1133.7,1293.7 L1136.7,1293.6 L1139.7,1293.5 L1142.7,1293.5 L1145.7,1293.4 L1148.7,1293.3 L1151.7,1293.2 L1154.7,1293.1 L1157.7,1293.0 L1160.7,1292.9 L1163.7,1292.8 L1166.7,1292.6 L1169.7,1292.5 L1172.7,1292.4 L1175.7,1292.3 L1178.7,1292.1 L1181.7,1292.0 L1184.7,1291.9 L1187.7,1291.8 L1190.7,1291.6 L1193.7,1291.5 L1196.7,1291.3 L1199.7,1291.2 L1202.7,1291.1 L1205.7,1290.9 L1208.7,1290.8 L1211.7,1290.6 L1214.7,1290.5 L1217.7,1290.3 L1220.7,1290.2 L1223.7,1290.0 L1226.7,1289.9 L1229.7,1289.7 L1232.7,1289.6 L1235.7,1289.4 L1238.7,1289.3 L1241.7,1289.2 L1244.7,1289.0 L1247.7,1288.9 L1250.7,1288.7 L1253.7,1288.6 L1256.7,1288.5 L1259.7,1288.3 L1262.7,1288.2 L1265.7,1288.1 L1268.7,1287.9 L1271.7,1287.8 L1274.7,1287.7 L1277.7,1287.6 L1280.7,1287.4 L1283.7,1287.3 L1286.7,1287.2 L1289.7,1287.1 L1292.7,1287.0 L1295.7,1286.9 L1298.7,1286.8 L1301.7,1286.7 L1304.7,1286.6 L1307.7,1286.6 L1310.7,1286.5 L1313.7,1286.4 L1316.7,1286.4 L1319.7,1286.3 L1322.7,1286.2 L1325.7,1286.2 L1328.7,1286.1 L1331.7,1286.1 L1334.7,1286.1 L1337.7,1286.1 L1340.7,1286.0 L1343.7,1286.0 L1346.7,1286.0 L1349.7,1286.0 L1352.7,1286.0 L1355.7,1286.1 L1358.7,1286.1 L1361.7,1286.1 L1364.7,1286.2 L1367.7,1286.2 L1370.7,1286.3 L1373.7,1286.3 L1376.7,1286.4 L1379.7,1286.5 L1382.7,1286.6 L1385.7,1286.7 L1388.7,1286.8 L1391.7,1286.9 L1394.7,1287.1 L1397.7,1287.2 L1400.7,1287.3 L1403.7,1287.5 L1406.7,1287.7 L1409.7,1287.9 L1412.7,1288.1 L1415.7,1288.3 L1418.7,1288.5 L1421.7,1288.7 L1424.7,1288.9 L1427.7,1289.2 L1430.7,1289.4 L1433.7,1289.7 L1436.7,1290.0 L1439.7,1290.3 L1442.7,1290.6 L1445.7,1290.9 L1448.7,1291.3 L1451.7,1291.6 L1454.7,1292.0 L1457.7,1292.3 L1460.7,1292.7 L1463.7,1293.1 L1466.7,1293.6 L1469.7,1294.0 L1472.7,1294.4 L1475.7,1294.9 L1478.7,1295.3 L1481.7,1295.8 L1484.7,1296.3 L1487.7,1296.8 L1490.7,1297.3 L1493.7,1297.8 L1496.7,1298.3 L1499.7,1298.8 L1502.7,1299.4 L1505.7,1299.9 L1508.7,1300.4 L1511.7,1301.0 L1514.7,1301.5 L1517.7,1302.1 L1520.7,1302.7 L1523.7,1303.2 L1526.7,1303.8 L1529.7,1304.4 L1532.7,1304.9 L1535.7,1305.5 L1538.7,1306.1 L1541.7,1306.6 L1544.7,1307.2 L1547.7,1307.8 L1550.7,1308.4 L1553.7,1308.9 L1556.7,1309.5 L1559.7,1310.1 L1562.7,1310.6 L1565.7,1311.2 L1568.7,1311.7 L1571.7,1312.3 L1574.7,1312.8 L1577.7,1313.3 L1580.7,1313.9 L1583.7,1314.4 L1586.7,1314.9 L1589.7,1315.4 L1592.7,1315.9 L1595.7,1316.4 L1598.7,1316.9 L1601.7,1317.3 L1604.7,1317.8 L1607.7,1318.2 L1610.7,1318.7 L1613.7,1319.1 L1616.7,1319.5 L1619.7,1319.9 L1622.7,1320.2 L1625.7,1320.6 L1628.7,1320.9 L1631.7,1321.2 L1634.7,1321.5 L1637.7,1321.8 L1640.7,1322.0 L1643.7,1322.2 L1646.7,1322.4 L1649.7,1322.6 L1652.7,1322.7 L1655.7,1322.9 L1658.7,1322.9 L1661.7,1323.0 L1664.7,1323.0 L1667.7,1323.0 L1670.7,1322.9 L1673.7,1322.8 L1676.7,1322.7 L1679.7,1322.6 L1682.7,1322.4 L1685.7,1322.1 L1688.7,1321.9 L1691.7,1321.5 L1694.7,1321.2 L1697.7,1320.8 L1700.7,1320.3 L1703.7,1319.9 L1706.7,1319.3 L1709.7,1318.8 L1712.7,1318.2 L1715.7,1317.6 L1718.7,1316.9 L1721.7,1316.2 L1724.7,1315.5 L1727.7,1314.8 L1730.7,1314.1 L1733.7,1313.3 L1736.7,1312.6 L1739.7,1311.8 L1742.7,1311.0 L1745.7,1310.2 L1748.7,1309.4 L1751.7,1308.6 L1754.7,1307.8 L1757.7,1307.0 L1760.7,1306.2 L1763.7,1305.4 L1766.7,1304.6 L1769.7,1303.9 L1772.7,1303.1 L1775.7,1302.4 L1778.7,1301.7 L1781.7,1301.0 L1784.7,1300.3 L1787.7,1299.6 L1790.7,1299.0 L1793.7,1298.4 L1796.7,1297.7 L1799.7,1297.1 L1802.7,1296.6 L1805.7,1296.0 L1808.7,1295.4 L1811.7,1294.9 L1814.7,1294.3 L1817.7,1293.8 L1820.7,1293.3 L1823.7,1292.8 L1826.7,1292.3 L1829.7,1291.8 L1832.7,1291.3 L1835.7,1290.8 L1838.7,1290.3 L1841.7,1289.8 L1844.7,1289.4 L1847.7,1288.9 L1850.7,1288.4 L1853.7,1287.9 L1856.7,1287.5 L1859.7,1287.0 L1862.7,1286.5 L1865.7,1286.0 L1868.7,1285.5 L1871.7,1285.1 L1874.7,1284.6 L1877.7,1284.1 L1880.7,1283.6 L1883.7,1283.1 L1886.7,1282.5 L1889.7,1282.0 L1892.7,1281.5 L1895.7,1281.0 L1898.7,1280.4 L1901.7,1279.9 L1904.7,1279.3 L1907.7,1278.8 L1910.7,1278.2 L1913.7,1277.7 L1916.7,1277.1 L1919.7,1276.5 L1922.7,1276.0 L1925.7,1275.4 L1928.7,1274.8 L1931.7,1274.2 L1934.7,1273.6 L1937.7,1273.0 L1940.7,1272.3 L1943.7,1271.7 L1946.7,1271.1 L1949.7,1270.5 L1952.7,1269.8 L1955.7,1269.2 L1958.7,1268.5 L1961.7,1267.8 L1964.7,1267.2 L1967.7,1266.5 L1970.7,1265.8 L1973.7,1265.1 L1976.7,1264.4 L1979.7,1263.7 L1982.7,1263.0 L1985.7,1262.3 L1988.7,1261.6 L1991.7,1260.9 L1994.7,1260.1 L1997.7,1259.4 L2000.7,1258.6 L2003.7,1257.9 L2006.7,1257.1 L2009.7,1256.3 L2012.7,1255.5 L2015.7,1254.8 L2018.7,1254.0 L2021.7,1253.2 L2024.7,1252.4 L2027.7,1251.5 L2030.7,1250.7 L2033.7,1249.9 L2036.7,1249.1 L2039.7,1248.3 L2042.7,1247.5 L2045.7,1246.6 L2048.7,1245.8 L2051.7,1245.0 L2054.7,1244.2 L2057.7,1243.4 L2060.7,1242.6 L2063.7,1241.8 L2066.7,1241.1 L2069.7,1240.3 L2072.7,1239.6 L2075.7,1238.8 L2078.7,1238.1 L2081.7,1237.4 L2084.7,1236.7 L2087.7,1236.0 L2090.7,1235.3 L2093.7,1234.7 L2096.7,1234.0 L2099.7,1233.4 L2102.7,1232.9 L2105.7,1232.3 L2108.7,1231.8 L2111.7,1231.2 L2114.7,1230.8 L2117.7,1230.3 L2120.7,1229.9 L2123.7,1229.5 L2126.7,1229.1 L2129.7,1228.7 L2132.7,1228.4 L2135.7,1228.1 L2138.7,1227.9 L2141.7,1227.6 L2144.7,1227.4 L2147.7,1227.3 L2150.7,1227.1 L2153.7,1227.0 L2156.7,1226.9 L2159.7,1226.8 L2162.7,1226.7 L2165.7,1226.7 L2168.7,1226.6 L2171.7,1226.6 L2174.7,1226.6 L2177.7,1226.6 L2180.7,1226.6 L2183.7,1226.7 L2186.7,1226.7 L2189.7,1226.8 L2192.7,1226.8 L2195.7,1226.9 L2198.7,1227.0 L2201.7,1227.0 L2204.7,1227.1 L2207.7,1227.2 L2210.7,1227.3 L2213.7,1227.4 L2216.7,1227.4 L2219.7,1227.5 L2222.7,1227.6 L2225.7,1227.7 L2228.7,1227.7 L2231.7,1227.8 L2232.1,1227.8" fill="none" stroke="#000000" stroke-width="4.6" stroke-linejoin="round" stroke-linecap="butt"/>
<line x1="497.5" y1="355.5" x2="497.5" y2="404.5" stroke="#000" stroke-width="3.8"/>
<line x1="1875.2" y1="134.8" x2="1875.2" y2="183.8" stroke="#000" stroke-width="3.8"/>
<line x1="503.6" y1="586.5" x2="503.6" y2="635.5" stroke="#000" stroke-width="3.8"/>
<line x1="1863.5" y1="387.5" x2="1863.5" y2="436.5" stroke="#000" stroke-width="3.8"/>
<line x1="509.6" y1="814.0" x2="509.6" y2="863.0" stroke="#000" stroke-width="3.8"/>
<line x1="1821.2" y1="568.2" x2="1821.2" y2="617.2" stroke="#000" stroke-width="3.8"/>
<line x1="552.7" y1="1050.5" x2="552.7" y2="1099.5" stroke="#000" stroke-width="3.8"/>
<line x1="1820.1" y1="791.3" x2="1820.1" y2="840.3" stroke="#000" stroke-width="3.8"/>
<line x1="463.1" y1="1205.0" x2="463.1" y2="1254.0" stroke="#000" stroke-width="3.8"/>
<line x1="1655.3" y1="1103.8" x2="1655.3" y2="1152.8" stroke="#000" stroke-width="3.8"/>
<line x1="523.9" y1="1407.3" x2="523.9" y2="1456.3" stroke="#000" stroke-width="3.8"/>
<line x1="1665.3" y1="1299.0" x2="1665.3" y2="1348.0" stroke="#000" stroke-width="3.8"/>
<rect x="166.3" y="40.3" width="2076.1" height="1528" fill="none" stroke="#000" stroke-width="5.8"/>
<line x1="278.4" y1="1568" x2="278.4" y2="1600.0" stroke="#000" stroke-width="5.5"/>
<line x1="418.7" y1="1568" x2="418.7" y2="1586.0" stroke="#000" stroke-width="5.5"/>
<line x1="559.0" y1="1568" x2="559.0" y2="1600.0" stroke="#000" stroke-width="5.5"/>
<line x1="699.3" y1="1568" x2="699.3" y2="1586.0" stroke="#000" stroke-width="5.5"/>
<line x1="839.5" y1="1568" x2="839.5" y2="1600.0" stroke="#000" stroke-width="5.5"/>
<line x1="979.8" y1="1568" x2="979.8" y2="1586.0" stroke="#000" stroke-width="5.5"/>
<line x1="1120.1" y1="1568" x2="1120.1" y2="1600.0" stroke="#000" stroke-width="5.5"/>
<line x1="1260.4" y1="1568" x2="1260.4" y2="1586.0" stroke="#000" stroke-width="5.5"/>
<line x1="1400.6" y1="1568" x2="1400.6" y2="1600.0" stroke="#000" stroke-width="5.5"/>
<line x1="1540.9" y1="1568" x2="1540.9" y2="1586.0" stroke="#000" stroke-width="5.5"/>
<line x1="1681.2" y1="1568" x2="1681.2" y2="1600.0" stroke="#000" stroke-width="5.5"/>
<line x1="1821.5" y1="1568" x2="1821.5" y2="1586.0" stroke="#000" stroke-width="5.5"/>
<line x1="1961.8" y1="1568" x2="1961.8" y2="1600.0" stroke="#000" stroke-width="5.5"/>
<line x1="2102.0" y1="1568" x2="2102.0" y2="1586.0" stroke="#000" stroke-width="5.5"/>
<line x1="2242.3" y1="1568" x2="2242.3" y2="1600.0" stroke="#000" stroke-width="5.5"/>
<g font-family="Liberation Serif, serif" font-weight="bold" font-size="66" text-anchor="middle" fill="#000">
<text transform="translate(278.4,1668.8) scale(1,1.03)">50</text>
<text transform="translate(559.0,1668.8) scale(1,1.03)">100</text>
<text transform="translate(839.5,1668.8) scale(1,1.03)">150</text>
<text transform="translate(1120.1,1668.8) scale(1,1.03)">200</text>
<text transform="translate(1400.6,1668.8) scale(1,1.03)">250</text>
<text transform="translate(1681.2,1668.8) scale(1,1.03)">300</text>
<text transform="translate(1961.8,1668.8) scale(1,1.03)">350</text>
<text transform="translate(2242.3,1668.8) scale(1,1.03)">400</text>
</g>
<g font-family="Liberation Serif, serif" font-weight="bold" font-size="51" text-anchor="middle" fill="#000">
<text transform="translate(1877.7,115.1) scale(1,1.04)">332</text>
<text transform="translate(498.7,447.2) scale(1,1.04)">88</text>
<text transform="translate(1859.1,371.7) scale(1,1.04)">331</text>
<text transform="translate(506.6,683.4) scale(1,1.04)">89</text>
<text transform="translate(1818.9,550.8) scale(1,1.04)">323</text>
<text transform="translate(511.3,917.3) scale(1,1.04)">90</text>
<text transform="translate(1814.1,774.1) scale(1,1.04)">323</text>
<text transform="translate(552.2,1143.5) scale(1,1.04)">98</text>
<text transform="translate(1655.2,1209.1) scale(1,1.04)">295</text>
<text transform="translate(463.4,1306.0) scale(1,1.04)">83</text>
<text transform="translate(1664.0,1396.3) scale(1,1.04)">299</text>
<text transform="translate(523.2,1506.4) scale(1,1.04)">93</text>
</g>
<g font-family="Liberation Serif, serif" font-weight="bold" font-size="78" text-anchor="middle" fill="#000">
<text x="2212.2" y="149.5">f</text>
<text x="2208.4" y="377.5">e</text>
<text x="2210.7" y="543.9">d</text>
<text x="2210.6" y="717.5">c</text>
<text x="2206.3" y="1054.1">b</text>
<text x="2208.1" y="1202.8">a</text>
</g>
<g font-family="Liberation Serif, serif" font-weight="bold" font-size="50" fill="#000">
<text x="468" y="259.8">Tg</text>
<text x="1626" y="1488.1">Tm</text>
<text x="231" y="136.5">exo</text>
</g>
<line x1="212.6" y1="100" x2="212.6" y2="147.7" stroke="#000" stroke-width="3.8"/>
<path d="M212.9,64 Q218.5,79 223.4,102 L202.3,102 Q207.2,79 212.9,64 Z" fill="#000"/>
<text transform="translate(900,1801) scale(1.0124,1)" font-family="Liberation Serif, serif" font-size="80" fill="#000"><tspan font-weight="bold">Temperature </tspan><tspan>(°C)</tspan></text>
<text transform="translate(68.8,1139.2) rotate(-90) scale(0.986,1)" x="0" y="0" font-family="Liberation Serif, serif" font-weight="bold" font-size="80" fill="#000">Heat flow (mW/mg)</text>
</svg>
</body></html>
